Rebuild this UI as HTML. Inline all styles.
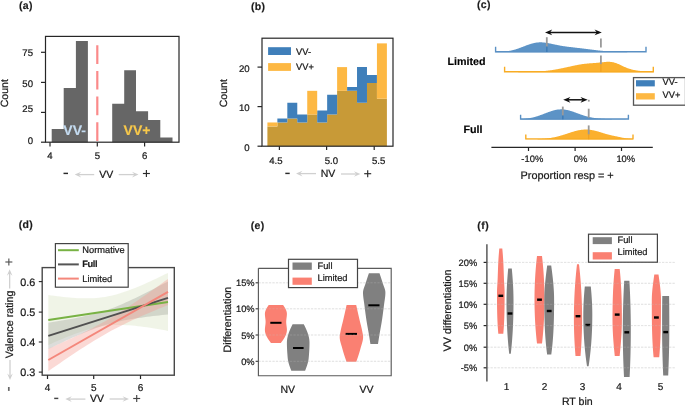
<!DOCTYPE html>
<html><head><meta charset="utf-8"><style>
html,body{margin:0;padding:0;background:#fff;}
body{width:685px;height:406px;overflow:hidden;}
svg{display:block;font-family:"Liberation Sans", sans-serif;will-change:transform;text-rendering:geometricPrecision;}
</style></head><body>
<svg width="685" height="406" viewBox="0 0 685 406">
<rect width="685" height="406" fill="#fff"/>
<text x="19.0" y="9.0" font-size="10.5" text-anchor="start" font-weight="bold" fill="#1a1a1a" stroke="#1a1a1a" stroke-width="0.15" letter-spacing="0.3">(a)</text>
<polygon points="51.70,142.20 51.70,128.90 63.70,128.90 63.70,88.10 75.90,88.10 75.90,41.00 87.90,41.00 87.90,142.20 112.20,142.20 112.20,103.70 124.20,103.70 124.20,70.20 136.00,70.20 136.00,111.20 148.10,111.20 148.10,120.00 160.30,120.00 160.30,137.60 172.50,137.60 172.50,142.20" fill="#666666" />
<line x1="97.3" y1="45.2" x2="97.3" y2="142" stroke="#fb8a8a" stroke-width="2.2" stroke-dasharray="18.7 7"/>
<rect x="45.5" y="36.4" width="133.5" height="105.8" fill="none" stroke="#262626" stroke-width="1.2"/>
<line x1="41" y1="142.2" x2="45.5" y2="142.2" stroke="#262626" stroke-width="1.2" />
<text x="33" y="143.8" font-size="9.6" text-anchor="end" font-weight="normal" fill="#1a1a1a" stroke="#1a1a1a" stroke-width="0.22" >0</text>
<line x1="41" y1="112.4" x2="45.5" y2="112.4" stroke="#262626" stroke-width="1.2" />
<text x="33" y="112.4" font-size="9.6" text-anchor="end" font-weight="normal" fill="#1a1a1a" stroke="#1a1a1a" stroke-width="0.22" >25</text>
<line x1="41" y1="82.4" x2="45.5" y2="82.4" stroke="#262626" stroke-width="1.2" />
<text x="33" y="87.1" font-size="9.6" text-anchor="end" font-weight="normal" fill="#1a1a1a" stroke="#1a1a1a" stroke-width="0.22" >50</text>
<line x1="41" y1="52.3" x2="45.5" y2="52.3" stroke="#262626" stroke-width="1.2" />
<text x="33" y="55.6" font-size="9.6" text-anchor="end" font-weight="normal" fill="#1a1a1a" stroke="#1a1a1a" stroke-width="0.22" >75</text>
<line x1="50" y1="142.2" x2="50" y2="146.5" stroke="#262626" stroke-width="1.2" />
<text x="50" y="158.8" font-size="9.6" text-anchor="middle" font-weight="normal" fill="#1a1a1a" stroke="#1a1a1a" stroke-width="0.22" >4</text>
<line x1="97.3" y1="142.2" x2="97.3" y2="146.5" stroke="#262626" stroke-width="1.2" />
<text x="97.3" y="158.8" font-size="9.6" text-anchor="middle" font-weight="normal" fill="#1a1a1a" stroke="#1a1a1a" stroke-width="0.22" >5</text>
<line x1="144.6" y1="142.2" x2="144.6" y2="146.5" stroke="#262626" stroke-width="1.2" />
<text x="144.6" y="158.8" font-size="9.6" text-anchor="middle" font-weight="normal" fill="#1a1a1a" stroke="#1a1a1a" stroke-width="0.22" >6</text>
<text x="63.3" y="135.4" font-size="14" text-anchor="start" font-weight="bold" fill="#c4dbf0" stroke="#c4dbf0" stroke-width="0.15" >VV-</text>
<text x="123.6" y="135.4" font-size="14" text-anchor="start" font-weight="bold" fill="#f7c84a" stroke="#f7c84a" stroke-width="0.15" >VV+</text>
<text x="0" y="0" font-size="10.5" text-anchor="middle" font-weight="normal" fill="#1a1a1a" stroke="#1a1a1a" stroke-width="0.22" transform="translate(8.2,93.2) rotate(-90)">Count</text>
<line x1="63.5" y1="173.4" x2="68" y2="173.4" stroke="#2a2a2a" stroke-width="1.45" />
<line x1="94.2" y1="174.6" x2="77.7" y2="174.6" stroke="#d0d0d0" stroke-width="1.3" />
<polygon points="74.7,174.6 81.2,171.79999999999998 78.7,174.6 81.2,177.4" fill="#d0d0d0"/>
<text x="106.2" y="178.2" font-size="10.5" text-anchor="middle" font-weight="normal" fill="#1a1a1a" stroke="#1a1a1a" stroke-width="0.22" >VV</text>
<line x1="118.7" y1="174.6" x2="135.5" y2="174.6" stroke="#d0d0d0" stroke-width="1.3" />
<polygon points="138.5,174.6 132.0,171.79999999999998 134.5,174.6 132.0,177.4" fill="#d0d0d0"/>
<line x1="142.9" y1="173.5" x2="149.9" y2="173.5" stroke="#2a2a2a" stroke-width="1.15" />
<line x1="146.4" y1="170.0" x2="146.4" y2="177.0" stroke="#2a2a2a" stroke-width="1.15" />
<text x="251.0" y="10.2" font-size="10.5" text-anchor="start" font-weight="bold" fill="#1a1a1a" stroke="#1a1a1a" stroke-width="0.15" letter-spacing="0.3">(b)</text>
<polygon points="297.27,122.47 297.27,118.51 287.32,118.51 287.32,122.47 277.36,122.47 277.36,126.42 267.40,126.42 267.40,146.20 386.90,146.20 386.90,98.74 376.94,98.74 376.94,82.92 366.98,82.92 366.98,102.69 357.02,102.69 357.02,90.83 337.11,90.83 337.11,114.56 327.15,114.56 327.15,122.47 317.19,122.47 317.19,114.56 307.23,114.56 307.23,122.47" fill="#c89a37" />
<polygon points="366.98,75.01 366.98,67.10 357.02,67.10 357.02,86.88 347.07,86.88 347.07,90.83 357.02,90.83 357.02,102.69 366.98,102.69 366.98,82.92 376.94,82.92 376.94,75.01" fill="#3f7fba" />
<polygon points="337.11,114.56 337.11,94.78 327.15,94.78 327.15,110.60 317.19,110.60 317.19,122.47 327.15,122.47 327.15,114.56" fill="#3f7fba" />
<polygon points="297.27,118.51 297.27,122.47 307.23,122.47 307.23,114.56 297.27,114.56 297.27,102.69 287.32,102.69 287.32,118.51" fill="#3f7fba" />
<polygon points="287.32,122.47 287.32,118.51 277.36,118.51 277.36,122.47" fill="#3f7fba" />
<polygon points="376.94,98.74 386.90,98.74 386.90,43.37 376.94,43.37" fill="#fdb843" />
<polygon points="337.11,90.83 347.07,90.83 347.07,67.10 337.11,67.10" fill="#fdb843" />
<polygon points="307.23,114.56 317.19,114.56 317.19,90.83 307.23,90.83" fill="#fdb843" />
<polygon points="267.40,126.42 277.36,126.42 277.36,122.47 267.40,122.47" fill="#fdb843" />
<rect x="262" y="38.2" width="131" height="108" fill="none" stroke="#262626" stroke-width="1.2"/>
<line x1="257.5" y1="146.2" x2="262" y2="146.2" stroke="#262626" stroke-width="1.2" />
<text x="249.6" y="150.79999999999998" font-size="9.6" text-anchor="end" font-weight="normal" fill="#1a1a1a" stroke="#1a1a1a" stroke-width="0.22" >0</text>
<line x1="257.5" y1="106.6" x2="262" y2="106.6" stroke="#262626" stroke-width="1.2" />
<text x="249.6" y="111.19999999999999" font-size="9.6" text-anchor="end" font-weight="normal" fill="#1a1a1a" stroke="#1a1a1a" stroke-width="0.22" >10</text>
<line x1="257.5" y1="67.1" x2="262" y2="67.1" stroke="#262626" stroke-width="1.2" />
<text x="249.6" y="71.69999999999999" font-size="9.6" text-anchor="end" font-weight="normal" fill="#1a1a1a" stroke="#1a1a1a" stroke-width="0.22" >20</text>
<line x1="279.4" y1="146.2" x2="279.4" y2="150" stroke="#262626" stroke-width="1.2" />
<line x1="326.6" y1="146.2" x2="326.6" y2="150" stroke="#262626" stroke-width="1.2" />
<line x1="374.2" y1="146.2" x2="374.2" y2="150" stroke="#262626" stroke-width="1.2" />
<text x="275.8" y="164" font-size="9.6" text-anchor="middle" font-weight="normal" fill="#1a1a1a" stroke="#1a1a1a" stroke-width="0.22" >4.5</text>
<text x="331.4" y="164" font-size="9.6" text-anchor="middle" font-weight="normal" fill="#1a1a1a" stroke="#1a1a1a" stroke-width="0.22" >5.0</text>
<text x="378.7" y="164" font-size="9.6" text-anchor="middle" font-weight="normal" fill="#1a1a1a" stroke="#1a1a1a" stroke-width="0.22" >5.5</text>
<rect x="268.1" y="47.2" width="22.9" height="7.8" fill="#3f7fba" />
<rect x="268.1" y="63.1" width="22.9" height="7.8" fill="#fdb843" />
<text x="296" y="54.6" font-size="9.3" text-anchor="start" font-weight="normal" fill="#1a1a1a" stroke="#1a1a1a" stroke-width="0.22" >VV-</text>
<text x="296" y="70.2" font-size="9.3" text-anchor="start" font-weight="normal" fill="#1a1a1a" stroke="#1a1a1a" stroke-width="0.22" >VV+</text>
<text x="0" y="0" font-size="10.5" text-anchor="middle" font-weight="normal" fill="#1a1a1a" stroke="#1a1a1a" stroke-width="0.22" transform="translate(227.4,93.2) rotate(-90)">Count</text>
<line x1="285.3" y1="173.4" x2="289.7" y2="173.4" stroke="#2a2a2a" stroke-width="1.45" />
<line x1="316" y1="173.6" x2="299" y2="173.6" stroke="#d0d0d0" stroke-width="1.3" />
<polygon points="296,173.6 302.5,170.79999999999998 300.0,173.6 302.5,176.4" fill="#d0d0d0"/>
<text x="328" y="177.4" font-size="10.5" text-anchor="middle" font-weight="normal" fill="#1a1a1a" stroke="#1a1a1a" stroke-width="0.22" >NV</text>
<line x1="341" y1="174" x2="357.4" y2="174" stroke="#d0d0d0" stroke-width="1.3" />
<polygon points="360.4,174 353.9,171.2 356.4,174 353.9,176.8" fill="#d0d0d0"/>
<line x1="364.2" y1="173.7" x2="371.2" y2="173.7" stroke="#2a2a2a" stroke-width="1.15" />
<line x1="367.7" y1="170.2" x2="367.7" y2="177.2" stroke="#2a2a2a" stroke-width="1.15" />
<text x="477.0" y="8.0" font-size="10.5" text-anchor="start" font-weight="bold" fill="#1a1a1a" stroke="#1a1a1a" stroke-width="0.15" letter-spacing="0.3">(c)</text>
<text x="447.5" y="64.8" font-size="10.7" text-anchor="start" font-weight="bold" fill="#000" stroke="#000" stroke-width="0.15" >Limited</text>
<text x="463.5" y="133" font-size="10.7" text-anchor="start" font-weight="bold" fill="#000" stroke="#000" stroke-width="0.15" >Full</text>
<polygon points="495.50,52.30 495.50,52.12 496.00,52.10 496.50,52.09 497.00,52.07 497.50,52.05 498.00,52.03 498.50,52.00 499.00,51.98 499.50,51.95 500.00,51.92 500.50,51.89 501.00,51.86 501.50,51.83 502.00,51.79 502.50,51.75 503.00,51.70 503.50,51.66 504.00,51.61 504.50,51.56 505.00,51.50 505.50,51.44 506.00,51.38 506.50,51.31 507.00,51.24 507.50,51.17 508.00,51.09 508.50,51.01 509.00,50.92 509.50,50.83 510.00,50.74 510.50,50.64 511.00,50.54 511.50,50.43 512.00,50.31 512.50,50.19 513.00,50.07 513.50,49.94 514.00,49.81 514.50,49.67 515.00,49.53 515.50,49.38 516.00,49.23 516.50,49.08 517.00,48.92 517.50,48.75 518.00,48.58 518.50,48.41 519.00,48.24 519.50,48.06 520.00,47.87 520.50,47.69 521.00,47.50 521.50,47.31 522.00,47.12 522.50,46.93 523.00,46.73 523.50,46.54 524.00,46.34 524.50,46.15 525.00,45.95 525.50,45.76 526.00,45.57 526.50,45.37 527.00,45.19 527.50,45.00 528.00,44.82 528.50,44.64 529.00,44.46 529.50,44.29 530.00,44.13 530.50,43.97 531.00,43.81 531.50,43.66 532.00,43.52 532.50,43.39 533.00,43.26 533.50,43.14 534.00,43.02 534.50,42.92 535.00,42.82 535.50,42.73 536.00,42.65 536.50,42.58 537.00,42.52 537.50,42.46 538.00,42.42 538.50,42.38 539.00,42.35 539.50,42.33 540.00,42.32 540.50,42.31 541.00,42.32 541.50,42.33 542.00,42.35 542.50,42.38 543.00,42.42 543.50,42.46 544.00,42.51 544.50,42.56 545.00,42.63 545.50,42.69 546.00,42.76 546.50,42.84 547.00,42.92 547.50,43.01 548.00,43.10 548.50,43.19 549.00,43.29 549.50,43.39 550.00,43.49 550.50,43.59 551.00,43.70 551.50,43.80 552.00,43.91 552.50,44.02 553.00,44.13 553.50,44.23 554.00,44.34 554.50,44.45 555.00,44.56 555.50,44.66 556.00,44.77 556.50,44.87 557.00,44.97 557.50,45.07 558.00,45.17 558.50,45.27 559.00,45.36 559.50,45.46 560.00,45.55 560.50,45.64 561.00,45.72 561.50,45.81 562.00,45.89 562.50,45.97 563.00,46.05 563.50,46.13 564.00,46.21 564.50,46.28 565.00,46.35 565.50,46.42 566.00,46.49 566.50,46.56 567.00,46.63 567.50,46.69 568.00,46.76 568.50,46.82 569.00,46.88 569.50,46.94 570.00,47.00 570.50,47.06 571.00,47.12 571.50,47.18 572.00,47.24 572.50,47.30 573.00,47.36 573.50,47.41 574.00,47.47 574.50,47.53 575.00,47.59 575.50,47.65 576.00,47.70 576.50,47.76 577.00,47.82 577.50,47.88 578.00,47.94 578.50,48.00 579.00,48.06 579.50,48.12 580.00,48.18 580.50,48.24 581.00,48.30 581.50,48.36 582.00,48.42 582.50,48.48 583.00,48.54 583.50,48.61 584.00,48.67 584.50,48.73 585.00,48.80 585.50,48.86 586.00,48.92 586.50,48.99 587.00,49.05 587.50,49.11 588.00,49.18 588.50,49.24 589.00,49.30 589.50,49.36 590.00,49.43 590.50,49.49 591.00,49.55 591.50,49.61 592.00,49.68 592.50,49.74 593.00,49.80 593.50,49.86 594.00,49.92 594.50,49.98 595.00,50.04 595.50,50.10 596.00,50.15 596.50,50.21 597.00,50.27 597.50,50.32 598.00,50.38 598.50,50.43 599.00,50.49 599.50,50.54 600.00,50.59 600.50,50.64 601.00,50.69 601.50,50.74 602.00,50.79 602.50,50.84 603.00,50.89 603.50,50.93 604.00,50.98 604.50,51.02 605.00,51.06 605.50,51.11 606.00,51.15 606.50,51.19 607.00,51.23 607.50,51.27 608.00,51.30 608.50,51.34 609.00,51.37 609.50,51.41 610.00,51.44 610.50,51.48 611.00,51.51 611.50,51.54 612.00,51.57 612.50,51.60 613.00,51.63 613.50,51.65 614.00,51.68 614.50,51.71 615.00,51.73 615.50,51.75 616.00,51.78 616.50,51.80 617.00,51.82 617.50,51.84 618.00,51.86 618.50,51.88 619.00,51.90 619.50,51.92 620.00,51.94 620.50,51.95 621.00,51.97 621.50,51.99 622.00,52.00 622.50,52.02 623.00,52.03 623.50,52.04 624.00,52.06 624.50,52.07 625.00,52.08 625.50,52.09 626.00,52.10 626.50,52.11 627.00,52.12 627.50,52.13 628.00,52.14 628.50,52.15 629.00,52.16 629.50,52.16 630.00,52.17 630.50,52.18 631.00,52.18 631.50,52.19 632.00,52.20 632.50,52.20 633.00,52.21 633.50,52.21 634.00,52.22 634.50,52.22 635.00,52.23 635.50,52.23 636.00,52.24 636.50,52.24 637.00,52.24 637.50,52.25 638.00,52.25 638.50,52.25 639.00,52.26 639.50,52.26 640.00,52.26 640.50,52.26 641.00,52.27 641.50,52.27 642.00,52.27 642.50,52.27 643.00,52.27 643.50,52.28 644.00,52.28 644.50,52.28 645.00,52.28 645.50,52.28 646.00,52.28 646.00,52.30" fill="#5c93c6" />
<polygon points="504.50,72.20 504.50,72.19 505.00,72.19 505.50,72.19 506.00,72.19 506.50,72.19 507.00,72.18 507.50,72.18 508.00,72.18 508.50,72.18 509.00,72.18 509.50,72.18 510.00,72.18 510.50,72.17 511.00,72.17 511.50,72.17 512.00,72.17 512.50,72.17 513.00,72.16 513.50,72.16 514.00,72.16 514.50,72.15 515.00,72.15 515.50,72.15 516.00,72.14 516.50,72.14 517.00,72.14 517.50,72.13 518.00,72.13 518.50,72.12 519.00,72.12 519.50,72.11 520.00,72.11 520.50,72.10 521.00,72.09 521.50,72.09 522.00,72.08 522.50,72.07 523.00,72.07 523.50,72.06 524.00,72.05 524.50,72.04 525.00,72.03 525.50,72.02 526.00,72.01 526.50,72.00 527.00,71.99 527.50,71.97 528.00,71.96 528.50,71.95 529.00,71.93 529.50,71.92 530.00,71.90 530.50,71.88 531.00,71.87 531.50,71.85 532.00,71.83 532.50,71.81 533.00,71.79 533.50,71.77 534.00,71.74 534.50,71.72 535.00,71.70 535.50,71.67 536.00,71.64 536.50,71.62 537.00,71.59 537.50,71.56 538.00,71.53 538.50,71.49 539.00,71.46 539.50,71.43 540.00,71.39 540.50,71.35 541.00,71.31 541.50,71.27 542.00,71.23 542.50,71.19 543.00,71.14 543.50,71.10 544.00,71.05 544.50,71.00 545.00,70.95 545.50,70.90 546.00,70.84 546.50,70.79 547.00,70.73 547.50,70.67 548.00,70.61 548.50,70.55 549.00,70.49 549.50,70.42 550.00,70.35 550.50,70.29 551.00,70.22 551.50,70.14 552.00,70.07 552.50,69.99 553.00,69.92 553.50,69.84 554.00,69.76 554.50,69.67 555.00,69.59 555.50,69.51 556.00,69.42 556.50,69.33 557.00,69.24 557.50,69.15 558.00,69.05 558.50,68.96 559.00,68.86 559.50,68.77 560.00,68.67 560.50,68.57 561.00,68.47 561.50,68.37 562.00,68.26 562.50,68.16 563.00,68.05 563.50,67.95 564.00,67.84 564.50,67.73 565.00,67.62 565.50,67.51 566.00,67.40 566.50,67.29 567.00,67.18 567.50,67.07 568.00,66.96 568.50,66.85 569.00,66.74 569.50,66.63 570.00,66.52 570.50,66.41 571.00,66.30 571.50,66.19 572.00,66.08 572.50,65.97 573.00,65.86 573.50,65.76 574.00,65.65 574.50,65.55 575.00,65.44 575.50,65.34 576.00,65.24 576.50,65.14 577.00,65.05 577.50,64.95 578.00,64.86 578.50,64.77 579.00,64.68 579.50,64.59 580.00,64.51 580.50,64.42 581.00,64.34 581.50,64.27 582.00,64.19 582.50,64.12 583.00,64.05 583.50,63.98 584.00,63.91 584.50,63.85 585.00,63.79 585.50,63.73 586.00,63.68 586.50,63.63 587.00,63.58 587.50,63.53 588.00,63.48 588.50,63.44 589.00,63.40 589.50,63.36 590.00,63.32 590.50,63.28 591.00,63.24 591.50,63.21 592.00,63.17 592.50,63.14 593.00,63.10 593.50,63.07 594.00,63.04 594.50,63.00 595.00,62.96 595.50,62.93 596.00,62.89 596.50,62.85 597.00,62.81 597.50,62.76 598.00,62.72 598.50,62.67 599.00,62.62 599.50,62.57 600.00,62.52 600.50,62.47 601.00,62.41 601.50,62.36 602.00,62.30 602.50,62.24 603.00,62.19 603.50,62.13 604.00,62.08 604.50,62.03 605.00,61.98 605.50,61.93 606.00,61.89 606.50,61.86 607.00,61.83 607.50,61.81 608.00,61.80 608.50,61.80 609.00,61.80 609.50,61.82 610.00,61.84 610.50,61.88 611.00,61.93 611.50,61.99 612.00,62.07 612.50,62.16 613.00,62.26 613.50,62.37 614.00,62.49 614.50,62.63 615.00,62.78 615.50,62.94 616.00,63.12 616.50,63.30 617.00,63.49 617.50,63.69 618.00,63.90 618.50,64.12 619.00,64.34 619.50,64.57 620.00,64.80 620.50,65.03 621.00,65.27 621.50,65.51 622.00,65.74 622.50,65.98 623.00,66.21 623.50,66.45 624.00,66.67 624.50,66.90 625.00,67.12 625.50,67.33 626.00,67.54 626.50,67.74 627.00,67.94 627.50,68.13 628.00,68.31 628.50,68.49 629.00,68.66 629.50,68.82 630.00,68.97 630.50,69.12 631.00,69.26 631.50,69.40 632.00,69.53 632.50,69.65 633.00,69.77 633.50,69.88 634.00,69.99 634.50,70.09 635.00,70.18 635.50,70.27 636.00,70.36 636.50,70.44 637.00,70.52 637.50,70.60 638.00,70.67 638.50,70.73 639.00,70.80 639.50,70.86 640.00,70.92 640.50,70.98 641.00,71.03 641.50,71.08 642.00,71.13 642.50,71.18 643.00,71.23 643.50,71.27 644.00,71.31 644.50,71.35 645.00,71.39 645.50,71.43 646.00,71.46 646.50,71.50 647.00,71.53 647.50,71.56 648.00,71.59 648.50,71.62 649.00,71.65 649.50,71.68 650.00,71.70 650.50,71.73 651.00,71.75 651.50,71.77 652.00,71.79 652.50,71.81 653.00,71.83 653.40,72.20" fill="#fbb02e" />
<polygon points="520.50,119.60 520.50,119.19 521.00,119.15 521.50,119.12 522.00,119.08 522.50,119.04 523.00,118.99 523.50,118.95 524.00,118.90 524.50,118.85 525.00,118.79 525.50,118.73 526.00,118.67 526.50,118.61 527.00,118.54 527.50,118.46 528.00,118.39 528.50,118.31 529.00,118.22 529.50,118.14 530.00,118.04 530.50,117.95 531.00,117.85 531.50,117.74 532.00,117.63 532.50,117.52 533.00,117.40 533.50,117.28 534.00,117.15 534.50,117.02 535.00,116.88 535.50,116.74 536.00,116.60 536.50,116.45 537.00,116.30 537.50,116.14 538.00,115.98 538.50,115.81 539.00,115.65 539.50,115.47 540.00,115.30 540.50,115.12 541.00,114.94 541.50,114.76 542.00,114.57 542.50,114.38 543.00,114.19 543.50,114.00 544.00,113.81 544.50,113.62 545.00,113.42 545.50,113.23 546.00,113.04 546.50,112.85 547.00,112.65 547.50,112.46 548.00,112.28 548.50,112.09 549.00,111.91 549.50,111.73 550.00,111.55 550.50,111.38 551.00,111.21 551.50,111.05 552.00,110.90 552.50,110.74 553.00,110.60 553.50,110.46 554.00,110.33 554.50,110.20 555.00,110.09 555.50,109.98 556.00,109.87 556.50,109.78 557.00,109.70 557.50,109.62 558.00,109.56 558.50,109.50 559.00,109.45 559.50,109.41 560.00,109.38 560.50,109.36 561.00,109.36 561.50,109.36 562.00,109.37 562.50,109.39 563.00,109.42 563.50,109.46 564.00,109.50 564.50,109.56 565.00,109.63 565.50,109.70 566.00,109.79 566.50,109.88 567.00,109.98 567.50,110.09 568.00,110.21 568.50,110.33 569.00,110.46 569.50,110.60 570.00,110.74 570.50,110.89 571.00,111.04 571.50,111.20 572.00,111.36 572.50,111.53 573.00,111.70 573.50,111.87 574.00,112.05 574.50,112.23 575.00,112.41 575.50,112.59 576.00,112.77 576.50,112.96 577.00,113.14 577.50,113.32 578.00,113.51 578.50,113.69 579.00,113.87 579.50,114.05 580.00,114.23 580.50,114.41 581.00,114.59 581.50,114.76 582.00,114.93 582.50,115.10 583.00,115.26 583.50,115.42 584.00,115.58 584.50,115.73 585.00,115.88 585.50,116.03 586.00,116.17 586.50,116.31 587.00,116.44 587.50,116.57 588.00,116.70 588.50,116.82 589.00,116.94 589.50,117.05 590.00,117.16 590.50,117.26 591.00,117.36 591.50,117.46 592.00,117.55 592.50,117.64 593.00,117.73 593.50,117.81 594.00,117.89 594.50,117.96 595.00,118.03 595.50,118.10 596.00,118.16 596.50,118.23 597.00,118.28 597.50,118.34 598.00,118.39 598.50,118.44 599.00,118.49 599.50,118.53 600.00,118.57 600.50,118.61 601.00,118.65 601.50,118.69 602.00,118.72 602.50,118.75 603.00,118.79 603.50,118.81 604.00,118.84 604.50,118.87 605.00,118.89 605.50,118.91 606.00,118.94 606.50,118.96 607.00,118.98 607.50,119.00 608.00,119.01 608.50,119.03 609.00,119.05 609.50,119.06 610.00,119.08 610.50,119.09 611.00,119.11 611.50,119.12 612.00,119.13 612.50,119.15 613.00,119.16 613.50,119.17 614.00,119.18 614.50,119.19 615.00,119.20 615.50,119.21 616.00,119.22 616.50,119.23 617.00,119.24 617.50,119.25 618.00,119.26 618.50,119.27 619.00,119.28 619.50,119.28 620.00,119.29 620.50,119.30 621.00,119.31 621.50,119.32 622.00,119.32 622.50,119.33 623.00,119.34 623.50,119.35 624.00,119.35 624.50,119.36 625.00,119.37 625.50,119.37 626.00,119.38 626.50,119.39 627.00,119.39 627.50,119.40 628.00,119.41 628.50,119.41 628.50,119.60" fill="#5c93c6" />
<polygon points="525.80,139.40 525.80,139.36 526.30,139.36 526.80,139.35 527.30,139.35 527.80,139.34 528.30,139.34 528.80,139.33 529.30,139.32 529.80,139.32 530.30,139.31 530.80,139.30 531.30,139.29 531.80,139.28 532.30,139.27 532.80,139.26 533.30,139.25 533.80,139.24 534.30,139.23 534.80,139.21 535.30,139.20 535.80,139.18 536.30,139.16 536.80,139.15 537.30,139.13 537.80,139.11 538.30,139.08 538.80,139.06 539.30,139.04 539.80,139.01 540.30,138.98 540.80,138.95 541.30,138.92 541.80,138.89 542.30,138.85 542.80,138.81 543.30,138.77 543.80,138.73 544.30,138.69 544.80,138.64 545.30,138.59 545.80,138.54 546.30,138.49 546.80,138.43 547.30,138.37 547.80,138.31 548.30,138.25 548.80,138.18 549.30,138.11 549.80,138.04 550.30,137.96 550.80,137.88 551.30,137.80 551.80,137.71 552.30,137.62 552.80,137.53 553.30,137.44 553.80,137.34 554.30,137.23 554.80,137.13 555.30,137.02 555.80,136.91 556.30,136.79 556.80,136.67 557.30,136.55 557.80,136.43 558.30,136.30 558.80,136.17 559.30,136.03 559.80,135.89 560.30,135.75 560.80,135.61 561.30,135.46 561.80,135.32 562.30,135.16 562.80,135.01 563.30,134.86 563.80,134.70 564.30,134.54 564.80,134.38 565.30,134.22 565.80,134.06 566.30,133.89 566.80,133.73 567.30,133.57 567.80,133.40 568.30,133.24 568.80,133.07 569.30,132.91 569.80,132.74 570.30,132.58 570.80,132.42 571.30,132.26 571.80,132.10 572.30,131.95 572.80,131.80 573.30,131.65 573.80,131.50 574.30,131.36 574.80,131.22 575.30,131.08 575.80,130.95 576.30,130.82 576.80,130.70 577.30,130.58 577.80,130.47 578.30,130.36 578.80,130.26 579.30,130.17 579.80,130.08 580.30,129.99 580.80,129.92 581.30,129.85 581.80,129.78 582.30,129.73 582.80,129.68 583.30,129.64 583.80,129.60 584.30,129.57 584.80,129.55 585.30,129.54 585.80,129.54 586.30,129.54 586.80,129.55 587.30,129.57 587.80,129.59 588.30,129.62 588.80,129.66 589.30,129.71 589.80,129.76 590.30,129.82 590.80,129.89 591.30,129.97 591.80,130.05 592.30,130.13 592.80,130.23 593.30,130.33 593.80,130.43 594.30,130.54 594.80,130.66 595.30,130.78 595.80,130.90 596.30,131.03 596.80,131.17 597.30,131.30 597.80,131.44 598.30,131.59 598.80,131.74 599.30,131.89 599.80,132.04 600.30,132.19 600.80,132.35 601.30,132.50 601.80,132.66 602.30,132.82 602.80,132.98 603.30,133.13 603.80,133.29 604.30,133.44 604.80,133.60 605.30,133.75 605.80,133.89 606.30,134.04 606.80,134.18 607.30,134.32 607.80,134.46 608.30,134.59 608.80,134.72 609.30,134.84 609.80,134.97 610.30,135.08 610.80,135.20 611.30,135.31 611.80,135.42 612.30,135.53 612.80,135.64 613.30,135.74 613.80,135.84 614.30,135.95 614.80,136.05 615.30,136.15 615.80,136.25 616.30,136.36 616.80,136.46 617.30,136.57 617.80,136.68 618.30,136.78 618.80,136.89 619.30,137.00 619.80,137.11 620.30,137.22 620.80,137.33 621.30,137.44 621.80,137.54 622.30,137.65 622.80,137.75 623.30,137.85 623.80,137.95 624.30,138.04 624.80,138.13 625.30,138.22 625.80,138.30 626.30,138.38 626.80,138.45 627.30,138.52 627.80,138.58 628.30,138.65 628.80,138.70 629.30,138.75 629.80,138.80 630.30,138.85 630.80,138.89 631.30,138.93 631.80,138.97 632.30,139.00 632.80,139.03 633.00,139.40" fill="#fbb02e" />
<polyline points="495.6,46.8 495.6,51.7 646,51.7 646,46.8" fill="none" stroke="#5a90c4" stroke-width="1.4"/>
<polyline points="504.6,66.8 504.6,71.7 653.3,71.7 653.3,66.8" fill="none" stroke="#f8ac24" stroke-width="1.4"/>
<polyline points="520.6,114.8 520.6,119 628.4,119 628.4,114.8" fill="none" stroke="#5a90c4" stroke-width="1.4"/>
<polyline points="525.8,134.6 525.8,138.9 633,138.9 633,134.6" fill="none" stroke="#f8ac24" stroke-width="1.4"/>
<line x1="546.8" y1="37.2" x2="546.8" y2="46.8" stroke="#9a9a9a" stroke-width="1.8" />
<line x1="546.8" y1="46.6" x2="546.8" y2="52" stroke="#3f7db8" stroke-width="1.6" />
<line x1="600.9" y1="38.5" x2="600.9" y2="47.6" stroke="#9a9a9a" stroke-width="1.8" />
<line x1="600.9" y1="55.5" x2="600.9" y2="64.3" stroke="#9a9a9a" stroke-width="1.8" />
<line x1="600.9" y1="64.5" x2="600.9" y2="72" stroke="#f0a020" stroke-width="1.2" />
<line x1="562.8" y1="106.6" x2="562.8" y2="115.6" stroke="#9a9a9a" stroke-width="1.8" />
<line x1="562.8" y1="115.6" x2="562.8" y2="119.3" stroke="#3f7db8" stroke-width="1.6" />
<line x1="588.7" y1="108.7" x2="588.7" y2="117.8" stroke="#9a9a9a" stroke-width="1.8" />
<line x1="588.7" y1="125.4" x2="588.7" y2="134.6" stroke="#9a9a9a" stroke-width="1.8" />
<line x1="588.7" y1="134.6" x2="588.7" y2="139.2" stroke="#f0a020" stroke-width="1.2" />
<rect x="587.9" y="99.8" width="1.8" height="1.8" fill="#999"/>
<line x1="548.0" y1="32.4" x2="598.8" y2="32.4" stroke="#111" stroke-width="1.5" />
<polygon points="545.0,32.4 552.2,29.5 550.0,32.4 552.2,35.3" fill="#111"/>
<polygon points="601.8,32.4 594.5999999999999,29.5 596.8,32.4 594.5999999999999,35.3" fill="#111"/>
<line x1="566.2" y1="99.8" x2="584.7" y2="99.8" stroke="#111" stroke-width="1.5" />
<polygon points="563.2,99.8 570.4000000000001,96.89999999999999 568.2,99.8 570.4000000000001,102.7" fill="#111"/>
<polygon points="587.7,99.8 580.5,96.89999999999999 582.7,99.8 580.5,102.7" fill="#111"/>
<line x1="491.4" y1="147.4" x2="652.8" y2="147.4" stroke="#262626" stroke-width="1.2" />
<line x1="528.5" y1="147.4" x2="528.5" y2="151" stroke="#262626" stroke-width="1.2" />
<line x1="575.1" y1="147.4" x2="575.1" y2="151" stroke="#262626" stroke-width="1.2" />
<line x1="621.5" y1="147.4" x2="621.5" y2="151" stroke="#262626" stroke-width="1.2" />
<text x="532.3" y="161.9" font-size="9.4" text-anchor="middle" font-weight="normal" fill="#1a1a1a" stroke="#1a1a1a" stroke-width="0.22" >-10%</text>
<text x="580.5" y="161.9" font-size="9.4" text-anchor="middle" font-weight="normal" fill="#1a1a1a" stroke="#1a1a1a" stroke-width="0.22" >0%</text>
<text x="625.8" y="161.9" font-size="9.4" text-anchor="middle" font-weight="normal" fill="#1a1a1a" stroke="#1a1a1a" stroke-width="0.22" >10%</text>
<text x="520.5" y="178.6" font-size="10.9" text-anchor="start" font-weight="normal" fill="#1a1a1a" stroke="#1a1a1a" stroke-width="0.22" >Proportion resp = +</text>
<rect x="633.5" y="77.6" width="52" height="27.6" fill="#fff" stroke="#555" stroke-width="1.3"/>
<rect x="636" y="80.2" width="18.8" height="6.2" fill="#3f7fba" />
<rect x="636" y="93.2" width="18.8" height="6.3" fill="#fdb843" />
<text x="662.5" y="84.9" font-size="9.3" text-anchor="start" font-weight="normal" fill="#1a1a1a" stroke="#1a1a1a" stroke-width="0.22" >VV-</text>
<text x="662.5" y="97.9" font-size="9.3" text-anchor="start" font-weight="normal" fill="#1a1a1a" stroke="#1a1a1a" stroke-width="0.22" >VV+</text>
<text x="18.8" y="228.1" font-size="10.5" text-anchor="start" font-weight="bold" fill="#1a1a1a" stroke="#1a1a1a" stroke-width="0.15" letter-spacing="0.3">(d)</text>
<polygon points="48.30,295.00 51.29,295.43 54.28,295.84 57.28,296.24 60.27,296.61 63.26,296.95 66.25,297.27 69.25,297.55 72.24,297.80 75.23,298.01 78.22,298.18 81.22,298.30 84.21,298.36 87.20,298.37 90.19,298.31 93.19,298.18 96.18,297.98 99.17,297.70 102.16,297.34 105.16,296.90 108.15,296.36 111.14,295.73 114.14,295.01 117.13,294.20 120.12,293.32 123.11,292.36 126.11,291.34 129.10,290.25 132.09,289.12 135.08,287.93 138.07,286.70 141.07,285.43 144.06,284.13 147.05,282.80 150.05,281.45 153.04,280.07 156.03,278.67 159.02,277.25 162.01,275.81 165.01,274.36 168.00,272.90 168.00,330.90 165.01,330.34 162.01,329.80 159.02,329.27 156.03,328.75 153.04,328.26 150.05,327.78 147.05,327.33 144.06,326.91 141.07,326.51 138.07,326.15 135.08,325.83 132.09,325.54 129.10,325.31 126.11,325.13 123.11,325.01 120.12,324.96 117.13,324.98 114.14,325.08 111.14,325.27 108.15,325.54 105.16,325.91 102.16,326.37 99.17,326.91 96.18,327.54 93.19,328.24 90.19,329.02 87.20,329.86 84.21,330.78 81.22,331.74 78.22,332.77 75.23,333.84 72.24,334.96 69.25,336.11 66.25,337.30 63.26,338.52 60.27,339.77 57.28,341.05 54.28,342.35 51.29,343.66 48.30,345.00" fill="#c9d6a6" fill-opacity="0.27"/>
<polygon points="48.30,322.70 51.29,322.24 54.28,321.78 57.28,321.30 60.27,320.82 63.26,320.32 66.25,319.81 69.25,319.28 72.24,318.73 75.23,318.16 78.22,317.57 81.22,316.95 84.21,316.30 87.20,315.61 90.19,314.90 93.19,314.14 96.18,313.33 99.17,312.49 102.16,311.59 105.16,310.64 108.15,309.64 111.14,308.56 114.14,307.43 117.13,306.23 120.12,304.99 123.11,303.69 126.11,302.36 129.10,300.99 132.09,299.59 135.08,298.16 138.07,296.71 141.07,295.23 144.06,293.74 147.05,292.24 150.05,290.72 153.04,289.19 156.03,287.65 159.02,286.10 162.01,284.54 165.01,282.97 168.00,281.40 168.00,314.40 165.01,314.73 162.01,315.06 159.02,315.40 156.03,315.75 153.04,316.11 150.05,316.48 147.05,316.86 144.06,317.26 141.07,317.67 138.07,318.09 135.08,318.54 132.09,319.01 129.10,319.51 126.11,320.04 123.11,320.61 120.12,321.21 117.13,321.87 114.14,322.57 111.14,323.34 108.15,324.16 105.16,325.06 102.16,326.01 99.17,327.01 96.18,328.07 93.19,329.16 90.19,330.30 87.20,331.49 84.21,332.70 81.22,333.95 78.22,335.23 75.23,336.54 72.24,337.87 69.25,339.22 66.25,340.59 63.26,341.98 60.27,343.38 57.28,344.80 54.28,346.22 51.29,347.66 48.30,349.10" fill="#9a9d96" fill-opacity="0.35"/>
<polygon points="48.30,348.80 51.29,347.48 54.28,346.15 57.28,344.81 60.27,343.47 63.26,342.11 66.25,340.75 69.25,339.36 72.24,337.97 75.23,336.56 78.22,335.13 81.22,333.68 84.21,332.21 87.20,330.72 90.19,329.20 93.19,327.65 96.18,326.08 99.17,324.47 102.16,322.83 105.16,321.15 108.15,319.44 111.14,317.68 114.14,315.88 117.13,314.04 120.12,312.15 123.11,310.23 126.11,308.28 129.10,306.30 132.09,304.29 135.08,302.25 138.07,300.20 141.07,298.12 144.06,296.03 147.05,293.93 150.05,291.81 153.04,289.68 156.03,287.54 159.02,285.39 162.01,283.23 165.01,281.07 168.00,278.90 168.00,304.90 165.01,306.13 162.01,307.38 159.02,308.62 156.03,309.88 153.04,311.15 150.05,312.42 147.05,313.71 144.06,315.01 141.07,316.32 138.07,317.65 135.08,319.00 132.09,320.37 129.10,321.77 126.11,323.19 123.11,324.64 120.12,326.13 117.13,327.65 114.14,329.21 111.14,330.81 108.15,332.46 105.16,334.15 102.16,335.88 99.17,337.65 96.18,339.44 93.19,341.27 90.19,343.13 87.20,345.01 84.21,346.93 81.22,348.86 78.22,350.82 75.23,352.80 72.24,354.79 69.25,356.80 66.25,358.82 63.26,360.86 60.27,362.91 57.28,364.97 54.28,367.04 51.29,369.12 48.30,371.20" fill="#f59a90" fill-opacity="0.38"/>
<line x1="48.3" y1="320" x2="168.0" y2="301.9" stroke="#78b244" stroke-width="2" />
<line x1="48.3" y1="335.9" x2="168.0" y2="297.9" stroke="#505050" stroke-width="2" />
<line x1="48.3" y1="360" x2="168.0" y2="291.9" stroke="#f4877b" stroke-width="2" />
<rect x="42.2" y="267.6" width="132.1" height="107.6" fill="none" stroke="#484848" stroke-width="1.4"/>
<line x1="38.8" y1="281.6" x2="42.2" y2="281.6" stroke="#262626" stroke-width="1.1" />
<text x="35.3" y="285.70000000000005" font-size="10.8" text-anchor="end" font-weight="normal" fill="#1a1a1a" stroke="#1a1a1a" stroke-width="0.22" >0.6</text>
<line x1="38.8" y1="312.1" x2="42.2" y2="312.1" stroke="#262626" stroke-width="1.1" />
<text x="35.3" y="316.20000000000005" font-size="10.8" text-anchor="end" font-weight="normal" fill="#1a1a1a" stroke="#1a1a1a" stroke-width="0.22" >0.5</text>
<line x1="38.8" y1="342" x2="42.2" y2="342" stroke="#262626" stroke-width="1.1" />
<text x="35.3" y="346.1" font-size="10.8" text-anchor="end" font-weight="normal" fill="#1a1a1a" stroke="#1a1a1a" stroke-width="0.22" >0.4</text>
<line x1="38.8" y1="372.1" x2="42.2" y2="372.1" stroke="#262626" stroke-width="1.1" />
<text x="35.3" y="376.20000000000005" font-size="10.8" text-anchor="end" font-weight="normal" fill="#1a1a1a" stroke="#1a1a1a" stroke-width="0.22" >0.3</text>
<line x1="47.5" y1="375.2" x2="47.5" y2="379" stroke="#262626" stroke-width="1.2" />
<text x="47.5" y="390.8" font-size="10" text-anchor="middle" font-weight="normal" fill="#1a1a1a" stroke="#1a1a1a" stroke-width="0.22" >4</text>
<line x1="93.7" y1="375.2" x2="93.7" y2="379" stroke="#262626" stroke-width="1.2" />
<text x="93.7" y="390.8" font-size="10" text-anchor="middle" font-weight="normal" fill="#1a1a1a" stroke="#1a1a1a" stroke-width="0.22" >5</text>
<line x1="140.5" y1="375.2" x2="140.5" y2="379" stroke="#262626" stroke-width="1.2" />
<text x="140.5" y="390.8" font-size="10" text-anchor="middle" font-weight="normal" fill="#1a1a1a" stroke="#1a1a1a" stroke-width="0.22" >6</text>
<rect x="55.4" y="243.6" width="72.8" height="43.6" fill="#fff" stroke="#444" stroke-width="1.2"/>
<line x1="58" y1="250.2" x2="78.8" y2="250.2" stroke="#78b244" stroke-width="2" />
<line x1="58" y1="264.4" x2="78.8" y2="264.4" stroke="#555" stroke-width="2" />
<line x1="58" y1="278.6" x2="78.8" y2="278.6" stroke="#f4877b" stroke-width="2" />
<text x="82.3" y="253.1" font-size="9.3" text-anchor="start" font-weight="normal" fill="#1a1a1a" stroke="#1a1a1a" stroke-width="0.22" >Normative</text>
<text x="82.3" y="267.4" font-size="9.3" text-anchor="start" font-weight="bold" fill="#1a1a1a" stroke="#1a1a1a" stroke-width="0.15" letter-spacing="-0.4">Full</text>
<text x="82.3" y="282" font-size="9.3" text-anchor="start" font-weight="normal" fill="#1a1a1a" stroke="#1a1a1a" stroke-width="0.22" >Limited</text>
<line x1="5.35" y1="262" x2="12.35" y2="262" stroke="#555" stroke-width="1.15" />
<line x1="8.85" y1="258.5" x2="8.85" y2="265.5" stroke="#555" stroke-width="1.15" />
<line x1="9.65" y1="288.5" x2="9.65" y2="272.3" stroke="#d0d0d0" stroke-width="1.3" />
<polygon points="9.65,269.3 6.8500000000000005,275.8 9.65,273.3 12.45,275.8" fill="#d0d0d0"/>
<text x="0" y="0" font-size="10.7" text-anchor="middle" font-weight="normal" fill="#1a1a1a" stroke="#1a1a1a" stroke-width="0.22" transform="translate(13.4,324.4) rotate(-90)">Valence rating</text>
<line x1="10" y1="360" x2="10" y2="376.9" stroke="#d0d0d0" stroke-width="1.3" />
<polygon points="10,379.9 7.2,373.4 10,375.9 12.8,373.4" fill="#d0d0d0"/>
<line x1="8.8" y1="387" x2="8.8" y2="390.9" stroke="#666" stroke-width="1.7" />
<line x1="54.2" y1="398.4" x2="58.3" y2="398.4" stroke="#444" stroke-width="1.45" />
<line x1="85.4" y1="399.1" x2="68.3" y2="399.1" stroke="#d0d0d0" stroke-width="1.3" />
<polygon points="65.3,399.1 71.8,396.3 69.3,399.1 71.8,401.90000000000003" fill="#d0d0d0"/>
<text x="97" y="402.4" font-size="10.5" text-anchor="middle" font-weight="normal" fill="#1a1a1a" stroke="#1a1a1a" stroke-width="0.22" >VV</text>
<line x1="109.6" y1="399" x2="126" y2="399" stroke="#d0d0d0" stroke-width="1.3" />
<polygon points="129,399 122.5,396.2 125.0,399 122.5,401.8" fill="#d0d0d0"/>
<line x1="133.2" y1="398.5" x2="140.2" y2="398.5" stroke="#444" stroke-width="1.15" />
<line x1="136.7" y1="395.0" x2="136.7" y2="402.0" stroke="#444" stroke-width="1.15" />
<text x="250.8" y="229.0" font-size="10.5" text-anchor="start" font-weight="bold" fill="#1a1a1a" stroke="#1a1a1a" stroke-width="0.15" letter-spacing="0.3">(e)</text>
<line x1="258.4" y1="282.8" x2="391.2" y2="282.8" stroke="#ebebeb" stroke-width="0.9" stroke-dasharray="2.3 1.2"/>
<line x1="258.4" y1="308.8" x2="391.2" y2="308.8" stroke="#ebebeb" stroke-width="0.9" stroke-dasharray="2.3 1.2"/>
<line x1="258.4" y1="335" x2="391.2" y2="335" stroke="#ebebeb" stroke-width="0.9" stroke-dasharray="2.3 1.2"/>
<line x1="258.4" y1="361.3" x2="391.2" y2="361.3" stroke="#ebebeb" stroke-width="0.9" stroke-dasharray="2.3 1.2"/>
<text x="254.6" y="286.40000000000003" font-size="9.3" text-anchor="end" font-weight="normal" fill="#1a1a1a" stroke="#1a1a1a" stroke-width="0.22" >15%</text>
<line x1="255.6" y1="282.8" x2="258.4" y2="282.8" stroke="#333" stroke-width="1.1" />
<text x="254.6" y="312.40000000000003" font-size="9.3" text-anchor="end" font-weight="normal" fill="#1a1a1a" stroke="#1a1a1a" stroke-width="0.22" >10%</text>
<line x1="255.6" y1="308.8" x2="258.4" y2="308.8" stroke="#333" stroke-width="1.1" />
<text x="254.6" y="338.6" font-size="9.3" text-anchor="end" font-weight="normal" fill="#1a1a1a" stroke="#1a1a1a" stroke-width="0.22" >5%</text>
<line x1="255.6" y1="335" x2="258.4" y2="335" stroke="#333" stroke-width="1.1" />
<text x="254.6" y="364.90000000000003" font-size="9.3" text-anchor="end" font-weight="normal" fill="#1a1a1a" stroke="#1a1a1a" stroke-width="0.22" >0%</text>
<line x1="255.6" y1="361.3" x2="258.4" y2="361.3" stroke="#333" stroke-width="1.1" />
<polygon points="268.70,305.10 268.02,306.10 267.37,307.10 266.78,308.10 266.24,309.10 265.78,310.10 265.40,311.10 265.12,312.10 264.95,313.10 264.90,314.10 264.94,315.10 265.02,316.10 265.13,317.10 265.26,318.10 265.39,319.10 265.50,320.10 265.58,321.10 265.60,322.10 265.56,323.10 265.48,324.10 265.37,325.10 265.24,326.10 265.11,327.10 265.00,328.10 264.92,329.10 264.90,330.10 264.95,331.10 265.09,332.10 265.32,333.10 265.62,334.10 265.99,335.10 266.43,336.10 266.94,337.10 267.50,338.10 268.12,339.10 268.79,340.10 269.51,341.10 270.27,342.10 270.90,342.90 280.90,342.90 281.53,342.10 282.29,341.10 283.01,340.10 283.68,339.10 284.30,338.10 284.86,337.10 285.37,336.10 285.81,335.10 286.18,334.10 286.48,333.10 286.71,332.10 286.85,331.10 286.90,330.10 286.88,329.10 286.80,328.10 286.69,327.10 286.56,326.10 286.43,325.10 286.32,324.10 286.24,323.10 286.20,322.10 286.22,321.10 286.30,320.10 286.41,319.10 286.54,318.10 286.67,317.10 286.78,316.10 286.86,315.10 286.90,314.10 286.85,313.10 286.68,312.10 286.40,311.10 286.02,310.10 285.56,309.10 285.02,308.10 284.43,307.10 283.78,306.10 283.10,305.10" fill="#fa8072" />
<polygon points="292.60,324.20 292.10,325.20 291.60,326.20 291.13,327.20 290.66,328.20 290.21,329.20 289.79,330.20 289.38,331.20 289.00,332.20 288.64,333.20 288.31,334.20 288.01,335.20 287.74,336.20 287.50,337.20 287.30,338.20 287.14,339.20 287.02,340.20 286.94,341.20 286.90,342.20 286.90,343.20 286.91,344.20 286.93,345.20 286.95,346.20 286.99,347.20 287.03,348.20 287.07,349.20 287.12,350.20 287.18,351.20 287.24,352.20 287.31,353.20 287.39,354.20 287.46,355.20 287.54,356.20 287.63,357.20 287.72,358.20 287.84,359.20 288.00,360.20 288.20,361.20 288.43,362.20 288.69,363.20 288.98,364.20 289.29,365.20 289.63,366.20 289.98,367.20 290.35,368.20 290.72,369.20 291.11,370.20 291.30,370.70 305.10,370.70 305.29,370.20 305.68,369.20 306.05,368.20 306.42,367.20 306.77,366.20 307.11,365.20 307.42,364.20 307.71,363.20 307.97,362.20 308.20,361.20 308.40,360.20 308.56,359.20 308.68,358.20 308.77,357.20 308.86,356.20 308.94,355.20 309.01,354.20 309.09,353.20 309.16,352.20 309.22,351.20 309.28,350.20 309.33,349.20 309.37,348.20 309.41,347.20 309.45,346.20 309.47,345.20 309.49,344.20 309.50,343.20 309.50,342.20 309.46,341.20 309.38,340.20 309.26,339.20 309.10,338.20 308.90,337.20 308.66,336.20 308.39,335.20 308.09,334.20 307.76,333.20 307.40,332.20 307.02,331.20 306.61,330.20 306.19,329.20 305.74,328.20 305.27,327.20 304.80,326.20 304.30,325.20 303.80,324.20" fill="#808080" />
<polygon points="346.60,304.90 346.38,305.90 346.16,306.90 345.94,307.90 345.72,308.90 345.50,309.90 345.27,310.90 345.05,311.90 344.82,312.90 344.60,313.90 344.37,314.90 344.14,315.90 343.91,316.90 343.68,317.90 343.45,318.90 343.22,319.90 342.99,320.90 342.74,321.90 342.49,322.90 342.24,323.90 341.98,324.90 341.73,325.90 341.48,326.90 341.25,327.90 341.02,328.90 340.81,329.90 340.62,330.90 340.43,331.90 340.23,332.90 340.03,333.90 339.87,334.90 339.75,335.90 339.70,336.90 339.73,337.90 339.83,338.90 339.98,339.90 340.18,340.90 340.43,341.90 340.70,342.90 340.99,343.90 341.29,344.90 341.60,345.90 341.90,346.90 342.17,347.90 342.44,348.90 342.72,349.90 343.00,350.90 343.29,351.90 343.59,352.90 343.90,353.90 344.22,354.90 344.54,355.90 344.87,356.90 345.21,357.90 345.56,358.90 345.91,359.90 346.27,360.90 346.60,361.80 356.20,361.80 356.53,360.90 356.89,359.90 357.24,358.90 357.59,357.90 357.93,356.90 358.26,355.90 358.58,354.90 358.90,353.90 359.21,352.90 359.51,351.90 359.80,350.90 360.08,349.90 360.36,348.90 360.63,347.90 360.90,346.90 361.20,345.90 361.51,344.90 361.81,343.90 362.10,342.90 362.37,341.90 362.62,340.90 362.82,339.90 362.97,338.90 363.07,337.90 363.10,336.90 363.05,335.90 362.93,334.90 362.77,333.90 362.57,332.90 362.37,331.90 362.18,330.90 361.99,329.90 361.78,328.90 361.55,327.90 361.32,326.90 361.07,325.90 360.82,324.90 360.56,323.90 360.31,322.90 360.06,321.90 359.81,320.90 359.58,319.90 359.35,318.90 359.12,317.90 358.89,316.90 358.66,315.90 358.43,314.90 358.20,313.90 357.98,312.90 357.75,311.90 357.53,310.90 357.30,309.90 357.08,308.90 356.86,307.90 356.64,306.90 356.42,305.90 356.20,304.90" fill="#fa8072" />
<polygon points="368.90,273.20 368.55,274.20 368.21,275.20 367.87,276.20 367.54,277.20 367.21,278.20 366.89,279.20 366.57,280.20 366.25,281.20 365.94,282.20 365.64,283.20 365.30,284.20 364.94,285.20 364.56,286.20 364.19,287.20 363.84,288.20 363.52,289.20 363.27,290.20 363.09,291.20 363.01,292.20 363.01,293.20 363.05,294.20 363.11,295.20 363.20,296.20 363.31,297.20 363.44,298.20 363.57,299.20 363.72,300.20 363.87,301.20 364.02,302.20 364.16,303.20 364.30,304.20 364.42,305.20 364.55,306.20 364.67,307.20 364.79,308.20 364.92,309.20 365.05,310.20 365.18,311.20 365.31,312.20 365.44,313.20 365.57,314.20 365.71,315.20 365.85,316.20 365.99,317.20 366.13,318.20 366.28,319.20 366.43,320.20 366.59,321.20 366.75,322.20 366.91,323.20 367.09,324.20 367.26,325.20 367.44,326.20 367.62,327.20 367.80,328.20 367.98,329.20 368.16,330.20 368.34,331.20 368.52,332.20 368.70,333.20 368.87,334.20 369.03,335.20 369.20,336.20 369.36,337.20 369.52,338.20 369.68,339.20 369.83,340.20 369.99,341.20 370.14,342.20 370.29,343.20 370.40,343.90 378.00,343.90 378.11,343.20 378.26,342.20 378.41,341.20 378.57,340.20 378.72,339.20 378.88,338.20 379.04,337.20 379.20,336.20 379.37,335.20 379.53,334.20 379.70,333.20 379.88,332.20 380.06,331.20 380.24,330.20 380.42,329.20 380.60,328.20 380.78,327.20 380.96,326.20 381.14,325.20 381.31,324.20 381.49,323.20 381.65,322.20 381.81,321.20 381.97,320.20 382.12,319.20 382.27,318.20 382.41,317.20 382.55,316.20 382.69,315.20 382.83,314.20 382.96,313.20 383.09,312.20 383.22,311.20 383.35,310.20 383.48,309.20 383.61,308.20 383.73,307.20 383.85,306.20 383.98,305.20 384.10,304.20 384.24,303.20 384.38,302.20 384.53,301.20 384.68,300.20 384.83,299.20 384.96,298.20 385.09,297.20 385.20,296.20 385.29,295.20 385.35,294.20 385.39,293.20 385.39,292.20 385.31,291.20 385.13,290.20 384.88,289.20 384.56,288.20 384.21,287.20 383.84,286.20 383.46,285.20 383.10,284.20 382.76,283.20 382.46,282.20 382.15,281.20 381.83,280.20 381.51,279.20 381.19,278.20 380.86,277.20 380.53,276.20 380.19,275.20 379.85,274.20 379.50,273.20" fill="#808080" />
<line x1="270.3" y1="322.8" x2="281.5" y2="322.8" stroke="#000" stroke-width="2" />
<line x1="293" y1="348" x2="303.6" y2="348" stroke="#000" stroke-width="2" />
<line x1="345.6" y1="333.9" x2="357" y2="333.9" stroke="#000" stroke-width="2" />
<line x1="368.3" y1="305.3" x2="379.5" y2="305.3" stroke="#000" stroke-width="2" />
<line x1="258.4" y1="282.8" x2="391.2" y2="282.8" stroke="#c3c3c3" stroke-width="0.9" stroke-dasharray="2.3 1.2" stroke-opacity="0.3"/>
<line x1="258.4" y1="308.8" x2="391.2" y2="308.8" stroke="#c3c3c3" stroke-width="0.9" stroke-dasharray="2.3 1.2" stroke-opacity="0.3"/>
<line x1="258.4" y1="335" x2="391.2" y2="335" stroke="#c3c3c3" stroke-width="0.9" stroke-dasharray="2.3 1.2" stroke-opacity="0.3"/>
<line x1="258.4" y1="361.3" x2="391.2" y2="361.3" stroke="#c3c3c3" stroke-width="0.9" stroke-dasharray="2.3 1.2" stroke-opacity="0.3"/>
<polyline points="258.4,268.3 258.4,375.7 391.2,375.7 391.2,268.3 258.4,268.3" fill="none" stroke="#5a5a5a" stroke-width="1.15"/>
<rect x="288.5" y="259.3" width="69" height="28.3" fill="#fff" stroke="#444" stroke-width="1.2"/>
<rect x="292.5" y="262.5" width="19.3" height="7.3" fill="#808080" />
<rect x="292.5" y="277.6" width="19.3" height="7.2" fill="#fa8072" />
<text x="317.5" y="268.5" font-size="9.3" text-anchor="start" font-weight="normal" fill="#1a1a1a" stroke="#1a1a1a" stroke-width="0.22" >Full</text>
<text x="317.5" y="280.6" font-size="9.3" text-anchor="start" font-weight="normal" fill="#1a1a1a" stroke="#1a1a1a" stroke-width="0.22" >Limited</text>
<text x="0" y="0" font-size="10.7" text-anchor="middle" font-weight="normal" fill="#1a1a1a" stroke="#1a1a1a" stroke-width="0.22" transform="translate(230.7,319.6) rotate(-90)">Differentiation</text>
<text x="287.8" y="392.9" font-size="10.5" text-anchor="middle" font-weight="normal" fill="#1a1a1a" stroke="#1a1a1a" stroke-width="0.22" >NV</text>
<text x="366.5" y="392.9" font-size="10.5" text-anchor="middle" font-weight="normal" fill="#1a1a1a" stroke="#1a1a1a" stroke-width="0.22" >VV</text>
<text x="477.2" y="228.8" font-size="10.5" text-anchor="start" font-weight="bold" fill="#1a1a1a" stroke="#1a1a1a" stroke-width="0.15" letter-spacing="0.5">(f)</text>
<line x1="487" y1="262.4" x2="676" y2="262.4" stroke="#ebebeb" stroke-width="0.9" stroke-dasharray="2.3 1.2"/>
<line x1="483.6" y1="262.4" x2="486.9" y2="262.4" stroke="#262626" stroke-width="1.2" />
<text x="477.2" y="266.0" font-size="9.3" text-anchor="end" font-weight="normal" fill="#1a1a1a" stroke="#1a1a1a" stroke-width="0.22" >20%</text>
<line x1="487" y1="283.3" x2="676" y2="283.3" stroke="#ebebeb" stroke-width="0.9" stroke-dasharray="2.3 1.2"/>
<line x1="483.6" y1="283.3" x2="486.9" y2="283.3" stroke="#262626" stroke-width="1.2" />
<text x="477.2" y="286.90000000000003" font-size="9.3" text-anchor="end" font-weight="normal" fill="#1a1a1a" stroke="#1a1a1a" stroke-width="0.22" >15%</text>
<line x1="487" y1="304.3" x2="676" y2="304.3" stroke="#ebebeb" stroke-width="0.9" stroke-dasharray="2.3 1.2"/>
<line x1="483.6" y1="304.3" x2="486.9" y2="304.3" stroke="#262626" stroke-width="1.2" />
<text x="477.2" y="307.90000000000003" font-size="9.3" text-anchor="end" font-weight="normal" fill="#1a1a1a" stroke="#1a1a1a" stroke-width="0.22" >10%</text>
<line x1="487" y1="325.6" x2="676" y2="325.6" stroke="#ebebeb" stroke-width="0.9" stroke-dasharray="2.3 1.2"/>
<line x1="483.6" y1="325.6" x2="486.9" y2="325.6" stroke="#262626" stroke-width="1.2" />
<text x="477.2" y="329.20000000000005" font-size="9.3" text-anchor="end" font-weight="normal" fill="#1a1a1a" stroke="#1a1a1a" stroke-width="0.22" >5%</text>
<line x1="487" y1="347.2" x2="676" y2="347.2" stroke="#ebebeb" stroke-width="0.9" stroke-dasharray="2.3 1.2"/>
<line x1="483.6" y1="347.2" x2="486.9" y2="347.2" stroke="#262626" stroke-width="1.2" />
<text x="477.2" y="350.8" font-size="9.3" text-anchor="end" font-weight="normal" fill="#1a1a1a" stroke="#1a1a1a" stroke-width="0.22" >0%</text>
<line x1="487" y1="367.8" x2="676" y2="367.8" stroke="#ebebeb" stroke-width="0.9" stroke-dasharray="2.3 1.2"/>
<line x1="483.6" y1="367.8" x2="486.9" y2="367.8" stroke="#262626" stroke-width="1.2" />
<text x="477.2" y="371.40000000000003" font-size="9.3" text-anchor="end" font-weight="normal" fill="#1a1a1a" stroke="#1a1a1a" stroke-width="0.22" >-5%</text>
<polygon points="499.30,248.60 499.21,249.60 499.12,250.60 499.04,251.60 498.95,252.60 498.87,253.60 498.79,254.60 498.71,255.60 498.64,256.60 498.57,257.60 498.50,258.60 498.44,259.60 498.38,260.60 498.32,261.60 498.27,262.60 498.22,263.60 498.18,264.60 498.13,265.60 498.09,266.60 498.05,267.60 498.01,268.60 497.98,269.60 497.94,270.60 497.91,271.60 497.87,272.60 497.84,273.60 497.80,274.60 497.77,275.60 497.73,276.60 497.70,277.60 497.66,278.60 497.62,279.60 497.57,280.60 497.52,281.60 497.47,282.60 497.41,283.60 497.35,284.60 497.28,285.60 497.23,286.60 497.17,287.60 497.12,288.60 497.07,289.60 497.04,290.60 497.01,291.60 497.00,292.60 497.00,293.60 497.00,294.60 497.00,295.60 497.00,296.60 497.00,297.60 497.01,298.60 497.01,299.60 497.01,300.60 497.02,301.60 497.03,302.60 497.03,303.60 497.04,304.60 497.05,305.60 497.06,306.60 497.08,307.60 497.09,308.60 497.11,309.60 497.13,310.60 497.15,311.60 497.17,312.60 497.19,313.60 497.22,314.60 497.25,315.60 497.28,316.60 497.31,317.60 497.35,318.60 497.39,319.60 497.43,320.60 497.48,321.60 497.53,322.60 497.58,323.60 497.63,324.60 497.69,325.60 497.75,326.60 497.82,327.60 497.89,328.60 497.96,329.60 498.04,330.60 498.12,331.60 498.20,332.60 498.29,333.60 498.30,333.70 503.30,333.70 503.31,333.60 503.40,332.60 503.48,331.60 503.56,330.60 503.64,329.60 503.71,328.60 503.78,327.60 503.85,326.60 503.91,325.60 503.97,324.60 504.02,323.60 504.07,322.60 504.12,321.60 504.17,320.60 504.21,319.60 504.25,318.60 504.29,317.60 504.32,316.60 504.35,315.60 504.38,314.60 504.41,313.60 504.43,312.60 504.45,311.60 504.47,310.60 504.49,309.60 504.51,308.60 504.52,307.60 504.54,306.60 504.55,305.60 504.56,304.60 504.57,303.60 504.57,302.60 504.58,301.60 504.59,300.60 504.59,299.60 504.59,298.60 504.60,297.60 504.60,296.60 504.60,295.60 504.60,294.60 504.60,293.60 504.60,292.60 504.59,291.60 504.56,290.60 504.53,289.60 504.48,288.60 504.43,287.60 504.37,286.60 504.32,285.60 504.25,284.60 504.19,283.60 504.13,282.60 504.08,281.60 504.03,280.60 503.98,279.60 503.94,278.60 503.90,277.60 503.87,276.60 503.83,275.60 503.80,274.60 503.76,273.60 503.73,272.60 503.69,271.60 503.66,270.60 503.62,269.60 503.59,268.60 503.55,267.60 503.51,266.60 503.47,265.60 503.42,264.60 503.38,263.60 503.33,262.60 503.28,261.60 503.22,260.60 503.16,259.60 503.10,258.60 503.03,257.60 502.96,256.60 502.89,255.60 502.81,254.60 502.73,253.60 502.65,252.60 502.56,251.60 502.48,250.60 502.39,249.60 502.30,248.60" fill="#fa8072" />
<polygon points="508.20,268.60 508.11,269.60 508.02,270.60 507.93,271.60 507.85,272.60 507.76,273.60 507.68,274.60 507.60,275.60 507.52,276.60 507.45,277.60 507.38,278.60 507.30,279.60 507.24,280.60 507.17,281.60 507.11,282.60 507.05,283.60 506.99,284.60 506.93,285.60 506.88,286.60 506.83,287.60 506.79,288.60 506.74,289.60 506.70,290.60 506.67,291.60 506.64,292.60 506.61,293.60 506.58,294.60 506.56,295.60 506.54,296.60 506.52,297.60 506.51,298.60 506.50,299.60 506.50,300.60 506.50,301.60 506.50,302.60 506.50,303.60 506.51,304.60 506.52,305.60 506.52,306.60 506.53,307.60 506.54,308.60 506.56,309.60 506.57,310.60 506.59,311.60 506.60,312.60 506.62,313.60 506.65,314.60 506.67,315.60 506.69,316.60 506.72,317.60 506.75,318.60 506.78,319.60 506.81,320.60 506.85,321.60 506.88,322.60 506.92,323.60 506.96,324.60 507.01,325.60 507.05,326.60 507.10,327.60 507.15,328.60 507.20,329.60 507.25,330.60 507.31,331.60 507.37,332.60 507.43,333.60 507.49,334.60 507.56,335.60 507.63,336.60 507.70,337.60 507.77,338.60 507.84,339.60 507.92,340.60 508.00,341.60 508.09,342.60 508.17,343.60 508.26,344.60 508.35,345.60 508.44,346.60 508.54,347.60 508.64,348.60 508.74,349.60 508.85,350.60 508.95,351.60 509.06,352.60 509.18,353.60 509.20,353.80 510.80,353.80 510.82,353.60 510.94,352.60 511.05,351.60 511.15,350.60 511.26,349.60 511.36,348.60 511.46,347.60 511.56,346.60 511.65,345.60 511.74,344.60 511.83,343.60 511.91,342.60 512.00,341.60 512.08,340.60 512.16,339.60 512.23,338.60 512.30,337.60 512.37,336.60 512.44,335.60 512.51,334.60 512.57,333.60 512.63,332.60 512.69,331.60 512.75,330.60 512.80,329.60 512.85,328.60 512.90,327.60 512.95,326.60 512.99,325.60 513.04,324.60 513.08,323.60 513.12,322.60 513.15,321.60 513.19,320.60 513.22,319.60 513.25,318.60 513.28,317.60 513.31,316.60 513.33,315.60 513.35,314.60 513.38,313.60 513.40,312.60 513.41,311.60 513.43,310.60 513.44,309.60 513.46,308.60 513.47,307.60 513.48,306.60 513.48,305.60 513.49,304.60 513.50,303.60 513.50,302.60 513.50,301.60 513.50,300.60 513.50,299.60 513.49,298.60 513.48,297.60 513.46,296.60 513.44,295.60 513.42,294.60 513.39,293.60 513.36,292.60 513.33,291.60 513.30,290.60 513.26,289.60 513.21,288.60 513.17,287.60 513.12,286.60 513.07,285.60 513.01,284.60 512.95,283.60 512.89,282.60 512.83,281.60 512.76,280.60 512.70,279.60 512.62,278.60 512.55,277.60 512.48,276.60 512.40,275.60 512.32,274.60 512.24,273.60 512.15,272.60 512.07,271.60 511.98,270.60 511.89,269.60 511.80,268.60" fill="#808080" />
<polygon points="537.00,255.90 536.89,256.90 536.78,257.90 536.67,258.90 536.56,259.90 536.46,260.90 536.36,261.90 536.26,262.90 536.17,263.90 536.08,264.90 535.99,265.90 535.90,266.90 535.81,267.90 535.73,268.90 535.65,269.90 535.58,270.90 535.50,271.90 535.43,272.90 535.36,273.90 535.29,274.90 535.23,275.90 535.17,276.90 535.11,277.90 535.05,278.90 535.00,279.90 534.95,280.90 534.90,281.90 534.86,282.90 534.81,283.90 534.77,284.90 534.74,285.90 534.70,286.90 534.67,287.90 534.64,288.90 534.61,289.90 534.59,290.90 534.57,291.90 534.55,292.90 534.54,293.90 534.52,294.90 534.51,295.90 534.51,296.90 534.50,297.90 534.50,298.90 534.50,299.90 534.50,300.90 534.51,301.90 534.52,302.90 534.53,303.90 534.54,304.90 534.56,305.90 534.58,306.90 534.60,307.90 534.62,308.90 534.65,309.90 534.67,310.90 534.70,311.90 534.74,312.90 534.77,313.90 534.81,314.90 534.85,315.90 534.89,316.90 534.94,317.90 534.99,318.90 535.04,319.90 535.09,320.90 535.15,321.90 535.21,322.90 535.27,323.90 535.33,324.90 535.40,325.90 535.47,326.90 535.54,327.90 535.61,328.90 535.69,329.90 535.77,330.90 535.85,331.90 535.93,332.90 536.02,333.90 536.11,334.90 536.20,335.90 536.30,336.90 536.39,337.90 536.49,338.90 536.60,339.90 536.70,340.90 536.81,341.90 536.92,342.90 537.00,343.60 542.00,343.60 542.08,342.90 542.19,341.90 542.30,340.90 542.40,339.90 542.51,338.90 542.61,337.90 542.70,336.90 542.80,335.90 542.89,334.90 542.98,333.90 543.07,332.90 543.15,331.90 543.23,330.90 543.31,329.90 543.39,328.90 543.46,327.90 543.53,326.90 543.60,325.90 543.67,324.90 543.73,323.90 543.79,322.90 543.85,321.90 543.91,320.90 543.96,319.90 544.01,318.90 544.06,317.90 544.11,316.90 544.15,315.90 544.19,314.90 544.23,313.90 544.26,312.90 544.30,311.90 544.33,310.90 544.35,309.90 544.38,308.90 544.40,307.90 544.42,306.90 544.44,305.90 544.46,304.90 544.47,303.90 544.48,302.90 544.49,301.90 544.50,300.90 544.50,299.90 544.50,298.90 544.50,297.90 544.49,296.90 544.49,295.90 544.48,294.90 544.46,293.90 544.45,292.90 544.43,291.90 544.41,290.90 544.39,289.90 544.36,288.90 544.33,287.90 544.30,286.90 544.26,285.90 544.23,284.90 544.19,283.90 544.14,282.90 544.10,281.90 544.05,280.90 544.00,279.90 543.95,278.90 543.89,277.90 543.83,276.90 543.77,275.90 543.71,274.90 543.64,273.90 543.57,272.90 543.50,271.90 543.42,270.90 543.35,269.90 543.27,268.90 543.19,267.90 543.10,266.90 543.01,265.90 542.92,264.90 542.83,263.90 542.74,262.90 542.64,261.90 542.54,260.90 542.44,259.90 542.33,258.90 542.22,257.90 542.11,256.90 542.00,255.90" fill="#fa8072" />
<polygon points="547.20,265.60 547.06,266.60 546.93,267.60 546.80,268.60 546.66,269.60 546.53,270.60 546.41,271.60 546.28,272.60 546.16,273.60 546.04,274.60 545.92,275.60 545.80,276.60 545.69,277.60 545.58,278.60 545.48,279.60 545.37,280.60 545.27,281.60 545.18,282.60 545.09,283.60 545.00,284.60 544.92,285.60 544.84,286.60 544.77,287.60 544.70,288.60 544.63,289.60 544.58,290.60 544.52,291.60 544.47,292.60 544.43,293.60 544.39,294.60 544.36,295.60 544.34,296.60 544.32,297.60 544.31,298.60 544.30,299.60 544.30,300.60 544.30,301.60 544.30,302.60 544.31,303.60 544.31,304.60 544.31,305.60 544.32,306.60 544.33,307.60 544.33,308.60 544.34,309.60 544.35,310.60 544.37,311.60 544.38,312.60 544.39,313.60 544.41,314.60 544.43,315.60 544.45,316.60 544.47,317.60 544.49,318.60 544.52,319.60 544.55,320.60 544.58,321.60 544.61,322.60 544.64,323.60 544.68,324.60 544.72,325.60 544.76,326.60 544.80,327.60 544.85,328.60 544.90,329.60 544.95,330.60 545.00,331.60 545.06,332.60 545.12,333.60 545.18,334.60 545.24,335.60 545.31,336.60 545.38,337.60 545.46,338.60 545.54,339.60 545.62,340.60 545.70,341.60 545.79,342.60 545.88,343.60 545.97,344.60 546.07,345.60 546.17,346.60 546.28,347.60 546.39,348.60 546.50,349.60 546.62,350.60 546.74,351.60 546.86,352.60 546.99,353.60 547.10,354.40 551.30,354.40 551.41,353.60 551.54,352.60 551.66,351.60 551.78,350.60 551.90,349.60 552.01,348.60 552.12,347.60 552.23,346.60 552.33,345.60 552.43,344.60 552.52,343.60 552.61,342.60 552.70,341.60 552.78,340.60 552.86,339.60 552.94,338.60 553.02,337.60 553.09,336.60 553.16,335.60 553.22,334.60 553.28,333.60 553.34,332.60 553.40,331.60 553.45,330.60 553.50,329.60 553.55,328.60 553.60,327.60 553.64,326.60 553.68,325.60 553.72,324.60 553.76,323.60 553.79,322.60 553.82,321.60 553.85,320.60 553.88,319.60 553.91,318.60 553.93,317.60 553.95,316.60 553.97,315.60 553.99,314.60 554.01,313.60 554.02,312.60 554.03,311.60 554.05,310.60 554.06,309.60 554.07,308.60 554.07,307.60 554.08,306.60 554.09,305.60 554.09,304.60 554.09,303.60 554.10,302.60 554.10,301.60 554.10,300.60 554.10,299.60 554.09,298.60 554.08,297.60 554.06,296.60 554.04,295.60 554.01,294.60 553.97,293.60 553.93,292.60 553.88,291.60 553.82,290.60 553.77,289.60 553.70,288.60 553.63,287.60 553.56,286.60 553.48,285.60 553.40,284.60 553.31,283.60 553.22,282.60 553.13,281.60 553.03,280.60 552.92,279.60 552.82,278.60 552.71,277.60 552.60,276.60 552.48,275.60 552.36,274.60 552.24,273.60 552.12,272.60 551.99,271.60 551.87,270.60 551.74,269.60 551.60,268.60 551.47,267.60 551.34,266.60 551.20,265.60" fill="#808080" />
<polygon points="577.00,264.30 576.88,265.30 576.77,266.30 576.66,267.30 576.55,268.30 576.45,269.30 576.34,270.30 576.24,271.30 576.14,272.30 576.05,273.30 575.95,274.30 575.86,275.30 575.77,276.30 575.68,277.30 575.59,278.30 575.51,279.30 575.43,280.30 575.35,281.30 575.27,282.30 575.20,283.30 575.13,284.30 575.05,285.30 574.99,286.30 574.92,287.30 574.86,288.30 574.79,289.30 574.73,290.30 574.68,291.30 574.62,292.30 574.57,293.30 574.52,294.30 574.47,295.30 574.42,296.30 574.37,297.30 574.33,298.30 574.29,299.30 574.25,300.30 574.21,301.30 574.18,302.30 574.15,303.30 574.12,304.30 574.09,305.30 574.06,306.30 574.04,307.30 574.01,308.30 573.99,309.30 573.98,310.30 573.96,311.30 573.94,312.30 573.93,313.30 573.92,314.30 573.91,315.30 573.91,316.30 573.90,317.30 573.90,318.30 573.90,319.30 573.90,320.30 573.91,321.30 573.91,322.30 573.92,323.30 573.93,324.30 573.95,325.30 573.97,326.30 573.98,327.30 574.01,328.30 574.03,329.30 574.06,330.30 574.08,331.30 574.11,332.30 574.15,333.30 574.18,334.30 574.22,335.30 574.26,336.30 574.30,337.30 574.35,338.30 574.39,339.30 574.44,340.30 574.49,341.30 574.55,342.30 574.60,343.30 574.66,344.30 574.72,345.30 574.78,346.30 574.85,347.30 574.91,348.30 574.98,349.30 575.05,350.30 575.12,351.30 575.20,352.30 575.27,353.30 575.35,354.30 575.43,355.30 575.50,356.10 580.50,356.10 580.57,355.30 580.65,354.30 580.73,353.30 580.80,352.30 580.88,351.30 580.95,350.30 581.02,349.30 581.09,348.30 581.15,347.30 581.22,346.30 581.28,345.30 581.34,344.30 581.40,343.30 581.45,342.30 581.51,341.30 581.56,340.30 581.61,339.30 581.65,338.30 581.70,337.30 581.74,336.30 581.78,335.30 581.82,334.30 581.85,333.30 581.89,332.30 581.92,331.30 581.94,330.30 581.97,329.30 581.99,328.30 582.02,327.30 582.03,326.30 582.05,325.30 582.07,324.30 582.08,323.30 582.09,322.30 582.09,321.30 582.10,320.30 582.10,319.30 582.10,318.30 582.10,317.30 582.09,316.30 582.09,315.30 582.08,314.30 582.07,313.30 582.06,312.30 582.04,311.30 582.02,310.30 582.01,309.30 581.99,308.30 581.96,307.30 581.94,306.30 581.91,305.30 581.88,304.30 581.85,303.30 581.82,302.30 581.79,301.30 581.75,300.30 581.71,299.30 581.67,298.30 581.63,297.30 581.58,296.30 581.53,295.30 581.48,294.30 581.43,293.30 581.38,292.30 581.32,291.30 581.27,290.30 581.21,289.30 581.14,288.30 581.08,287.30 581.01,286.30 580.95,285.30 580.87,284.30 580.80,283.30 580.73,282.30 580.65,281.30 580.57,280.30 580.49,279.30 580.41,278.30 580.32,277.30 580.23,276.30 580.14,275.30 580.05,274.30 579.95,273.30 579.86,272.30 579.76,271.30 579.66,270.30 579.55,269.30 579.45,268.30 579.34,267.30 579.23,266.30 579.12,265.30 579.00,264.30" fill="#fa8072" />
<polygon points="584.80,286.60 584.70,287.60 584.61,288.60 584.52,289.60 584.43,290.60 584.35,291.60 584.26,292.60 584.18,293.60 584.11,294.60 584.03,295.60 583.96,296.60 583.90,297.60 583.83,298.60 583.77,299.60 583.72,300.60 583.66,301.60 583.61,302.60 583.56,303.60 583.52,304.60 583.48,305.60 583.45,306.60 583.41,307.60 583.39,308.60 583.36,309.60 583.34,310.60 583.32,311.60 583.31,312.60 583.30,313.60 583.30,314.60 583.30,315.60 583.30,316.60 583.31,317.60 583.32,318.60 583.33,319.60 583.34,320.60 583.36,321.60 583.37,322.60 583.39,323.60 583.42,324.60 583.44,325.60 583.47,326.60 583.50,327.60 583.54,328.60 583.58,329.60 583.61,330.60 583.66,331.60 583.70,332.60 583.75,333.60 583.80,334.60 583.86,335.60 583.91,336.60 583.97,337.60 584.03,338.60 584.10,339.60 584.17,340.60 584.24,341.60 584.31,342.60 584.39,343.60 584.47,344.60 584.56,345.60 584.64,346.60 584.73,347.60 584.82,348.60 584.92,349.60 585.02,350.60 585.12,351.60 585.23,352.60 585.34,353.60 585.45,354.60 585.56,355.60 585.68,356.60 585.80,357.60 585.93,358.60 586.05,359.60 586.19,360.60 586.32,361.60 586.46,362.60 586.60,363.60 586.75,364.60 586.89,365.60 587.00,366.30 588.60,366.30 588.71,365.60 588.85,364.60 589.00,363.60 589.14,362.60 589.28,361.60 589.41,360.60 589.55,359.60 589.67,358.60 589.80,357.60 589.92,356.60 590.04,355.60 590.15,354.60 590.26,353.60 590.37,352.60 590.48,351.60 590.58,350.60 590.68,349.60 590.78,348.60 590.87,347.60 590.96,346.60 591.04,345.60 591.13,344.60 591.21,343.60 591.29,342.60 591.36,341.60 591.43,340.60 591.50,339.60 591.57,338.60 591.63,337.60 591.69,336.60 591.74,335.60 591.80,334.60 591.85,333.60 591.90,332.60 591.94,331.60 591.99,330.60 592.02,329.60 592.06,328.60 592.10,327.60 592.13,326.60 592.16,325.60 592.18,324.60 592.21,323.60 592.23,322.60 592.24,321.60 592.26,320.60 592.27,319.60 592.28,318.60 592.29,317.60 592.30,316.60 592.30,315.60 592.30,314.60 592.30,313.60 592.29,312.60 592.28,311.60 592.26,310.60 592.24,309.60 592.21,308.60 592.19,307.60 592.15,306.60 592.12,305.60 592.08,304.60 592.04,303.60 591.99,302.60 591.94,301.60 591.88,300.60 591.83,299.60 591.77,298.60 591.70,297.60 591.64,296.60 591.57,295.60 591.49,294.60 591.42,293.60 591.34,292.60 591.25,291.60 591.17,290.60 591.08,289.60 590.99,288.60 590.90,287.60 590.80,286.60" fill="#808080" />
<polygon points="614.70,268.90 614.60,269.90 614.50,270.90 614.40,271.90 614.31,272.90 614.21,273.90 614.13,274.90 614.04,275.90 613.96,276.90 613.88,277.90 613.80,278.90 613.73,279.90 613.65,280.90 613.59,281.90 613.52,282.90 613.46,283.90 613.39,284.90 613.33,285.90 613.28,286.90 613.22,287.90 613.17,288.90 613.12,289.90 613.07,290.90 613.03,291.90 612.99,292.90 612.95,293.90 612.91,294.90 612.87,295.90 612.84,296.90 612.80,297.90 612.77,298.90 612.74,299.90 612.72,300.90 612.69,301.90 612.67,302.90 612.65,303.90 612.63,304.90 612.61,305.90 612.59,306.90 612.58,307.90 612.56,308.90 612.55,309.90 612.54,310.90 612.53,311.90 612.52,312.90 612.51,313.90 612.51,314.90 612.51,315.90 612.50,316.90 612.50,317.90 612.50,318.90 612.50,319.90 612.51,320.90 612.52,321.90 612.53,322.90 612.55,323.90 612.57,324.90 612.60,325.90 612.63,326.90 612.66,327.90 612.70,328.90 612.74,329.90 612.78,330.90 612.83,331.90 612.88,332.90 612.93,333.90 612.99,334.90 613.05,335.90 613.11,336.90 613.18,337.90 613.25,338.90 613.32,339.90 613.39,340.90 613.47,341.90 613.55,342.90 613.63,343.90 613.71,344.90 613.80,345.90 613.89,346.90 613.98,347.90 614.07,348.90 614.17,349.90 614.27,350.90 614.36,351.90 614.47,352.90 614.57,353.90 614.67,354.90 614.78,355.90 614.80,356.10 619.60,356.10 619.62,355.90 619.73,354.90 619.83,353.90 619.93,352.90 620.04,351.90 620.13,350.90 620.23,349.90 620.33,348.90 620.42,347.90 620.51,346.90 620.60,345.90 620.69,344.90 620.77,343.90 620.85,342.90 620.93,341.90 621.01,340.90 621.08,339.90 621.15,338.90 621.22,337.90 621.29,336.90 621.35,335.90 621.41,334.90 621.47,333.90 621.52,332.90 621.57,331.90 621.62,330.90 621.66,329.90 621.70,328.90 621.74,327.90 621.77,326.90 621.80,325.90 621.83,324.90 621.85,323.90 621.87,322.90 621.88,321.90 621.89,320.90 621.90,319.90 621.90,318.90 621.90,317.90 621.90,316.90 621.89,315.90 621.89,314.90 621.89,313.90 621.88,312.90 621.87,311.90 621.86,310.90 621.85,309.90 621.84,308.90 621.82,307.90 621.81,306.90 621.79,305.90 621.77,304.90 621.75,303.90 621.73,302.90 621.71,301.90 621.68,300.90 621.66,299.90 621.63,298.90 621.60,297.90 621.56,296.90 621.53,295.90 621.49,294.90 621.45,293.90 621.41,292.90 621.37,291.90 621.33,290.90 621.28,289.90 621.23,288.90 621.18,287.90 621.12,286.90 621.07,285.90 621.01,284.90 620.94,283.90 620.88,282.90 620.81,281.90 620.75,280.90 620.67,279.90 620.60,278.90 620.52,277.90 620.44,276.90 620.36,275.90 620.27,274.90 620.19,273.90 620.09,272.90 620.00,271.90 619.90,270.90 619.80,269.90 619.70,268.90" fill="#fa8072" />
<polygon points="624.20,280.70 624.14,281.70 624.09,282.70 624.04,283.70 623.98,284.70 623.93,285.70 623.88,286.70 623.84,287.70 623.79,288.70 623.74,289.70 623.70,290.70 623.65,291.70 623.61,292.70 623.56,293.70 623.52,294.70 623.48,295.70 623.44,296.70 623.41,297.70 623.37,298.70 623.33,299.70 623.30,300.70 623.27,301.70 623.24,302.70 623.20,303.70 623.17,304.70 623.15,305.70 623.12,306.70 623.09,307.70 623.07,308.70 623.04,309.70 623.02,310.70 623.00,311.70 622.98,312.70 622.96,313.70 622.94,314.70 622.92,315.70 622.90,316.70 622.89,317.70 622.88,318.70 622.86,319.70 622.85,320.70 622.84,321.70 622.83,322.70 622.82,323.70 622.82,324.70 622.81,325.70 622.81,326.70 622.80,327.70 622.80,328.70 622.80,329.70 622.80,330.70 622.80,331.70 622.80,332.70 622.81,333.70 622.81,334.70 622.82,335.70 622.82,336.70 622.83,337.70 622.84,338.70 622.85,339.70 622.86,340.70 622.87,341.70 622.89,342.70 622.90,343.70 622.91,344.70 622.93,345.70 622.95,346.70 622.97,347.70 622.99,348.70 623.01,349.70 623.03,350.70 623.05,351.70 623.07,352.70 623.10,353.70 623.12,354.70 623.15,355.70 623.18,356.70 623.21,357.70 623.24,358.70 623.27,359.70 623.30,360.70 623.34,361.70 623.37,362.70 623.41,363.70 623.45,364.70 623.48,365.70 623.52,366.70 623.56,367.70 623.61,368.70 623.65,369.70 623.69,370.70 623.74,371.70 623.78,372.70 623.83,373.70 623.88,374.70 623.93,375.70 623.98,376.70 624.00,377.10 629.60,377.10 629.62,376.70 629.67,375.70 629.72,374.70 629.77,373.70 629.82,372.70 629.86,371.70 629.91,370.70 629.95,369.70 629.99,368.70 630.04,367.70 630.08,366.70 630.12,365.70 630.15,364.70 630.19,363.70 630.23,362.70 630.26,361.70 630.30,360.70 630.33,359.70 630.36,358.70 630.39,357.70 630.42,356.70 630.45,355.70 630.48,354.70 630.50,353.70 630.53,352.70 630.55,351.70 630.57,350.70 630.59,349.70 630.61,348.70 630.63,347.70 630.65,346.70 630.67,345.70 630.69,344.70 630.70,343.70 630.71,342.70 630.73,341.70 630.74,340.70 630.75,339.70 630.76,338.70 630.77,337.70 630.78,336.70 630.78,335.70 630.79,334.70 630.79,333.70 630.80,332.70 630.80,331.70 630.80,330.70 630.80,329.70 630.80,328.70 630.80,327.70 630.79,326.70 630.79,325.70 630.78,324.70 630.78,323.70 630.77,322.70 630.76,321.70 630.75,320.70 630.74,319.70 630.72,318.70 630.71,317.70 630.70,316.70 630.68,315.70 630.66,314.70 630.64,313.70 630.62,312.70 630.60,311.70 630.58,310.70 630.56,309.70 630.53,308.70 630.51,307.70 630.48,306.70 630.45,305.70 630.43,304.70 630.40,303.70 630.36,302.70 630.33,301.70 630.30,300.70 630.27,299.70 630.23,298.70 630.19,297.70 630.16,296.70 630.12,295.70 630.08,294.70 630.04,293.70 629.99,292.70 629.95,291.70 629.90,290.70 629.86,289.70 629.81,288.70 629.76,287.70 629.72,286.70 629.67,285.70 629.62,284.70 629.56,283.70 629.51,282.70 629.46,281.70 629.40,280.70" fill="#808080" />
<polygon points="654.30,274.40 654.16,275.40 654.02,276.40 653.88,277.40 653.74,278.40 653.61,279.40 653.47,280.40 653.33,281.40 653.20,282.40 653.07,283.40 652.94,284.40 652.82,285.40 652.70,286.40 652.59,287.40 652.48,288.40 652.38,289.40 652.28,290.40 652.19,291.40 652.11,292.40 652.04,293.40 651.97,294.40 651.92,295.40 651.87,296.40 651.84,297.40 651.82,298.40 651.80,299.40 651.80,300.40 651.80,301.40 651.80,302.40 651.80,303.40 651.80,304.40 651.80,305.40 651.80,306.40 651.80,307.40 651.81,308.40 651.81,309.40 651.81,310.40 651.81,311.40 651.82,312.40 651.82,313.40 651.83,314.40 651.84,315.40 651.84,316.40 651.85,317.40 651.86,318.40 651.87,319.40 651.88,320.40 651.89,321.40 651.91,322.40 651.92,323.40 651.94,324.40 651.96,325.40 651.98,326.40 652.00,327.40 652.02,328.40 652.04,329.40 652.07,330.40 652.10,331.40 652.13,332.40 652.16,333.40 652.19,334.40 652.23,335.40 652.26,336.40 652.30,337.40 652.34,338.40 652.39,339.40 652.43,340.40 652.48,341.40 652.53,342.40 652.59,343.40 652.64,344.40 652.70,345.40 652.76,346.40 652.82,347.40 652.89,348.40 652.96,349.40 653.03,350.40 653.11,351.40 653.18,352.40 653.26,353.40 653.35,354.40 653.44,355.40 653.53,356.40 653.60,357.20 659.20,357.20 659.27,356.40 659.36,355.40 659.45,354.40 659.54,353.40 659.62,352.40 659.69,351.40 659.77,350.40 659.84,349.40 659.91,348.40 659.98,347.40 660.04,346.40 660.10,345.40 660.16,344.40 660.21,343.40 660.27,342.40 660.32,341.40 660.37,340.40 660.41,339.40 660.46,338.40 660.50,337.40 660.54,336.40 660.57,335.40 660.61,334.40 660.64,333.40 660.67,332.40 660.70,331.40 660.73,330.40 660.76,329.40 660.78,328.40 660.80,327.40 660.82,326.40 660.84,325.40 660.86,324.40 660.88,323.40 660.89,322.40 660.91,321.40 660.92,320.40 660.93,319.40 660.94,318.40 660.95,317.40 660.96,316.40 660.96,315.40 660.97,314.40 660.98,313.40 660.98,312.40 660.99,311.40 660.99,310.40 660.99,309.40 660.99,308.40 661.00,307.40 661.00,306.40 661.00,305.40 661.00,304.40 661.00,303.40 661.00,302.40 661.00,301.40 661.00,300.40 661.00,299.40 660.98,298.40 660.96,297.40 660.93,296.40 660.88,295.40 660.83,294.40 660.76,293.40 660.69,292.40 660.61,291.40 660.52,290.40 660.42,289.40 660.32,288.40 660.21,287.40 660.10,286.40 659.98,285.40 659.86,284.40 659.73,283.40 659.60,282.40 659.47,281.40 659.33,280.40 659.19,279.40 659.06,278.40 658.92,277.40 658.78,276.40 658.64,275.40 658.50,274.40" fill="#fa8072" />
<polygon points="662.30,295.90 662.28,296.90 662.27,297.90 662.25,298.90 662.24,299.90 662.22,300.90 662.21,301.90 662.20,302.90 662.19,303.90 662.18,304.90 662.17,305.90 662.16,306.90 662.15,307.90 662.15,308.90 662.14,309.90 662.14,310.90 662.13,311.90 662.13,312.90 662.12,313.90 662.12,314.90 662.11,315.90 662.11,316.90 662.11,317.90 662.11,318.90 662.11,319.90 662.10,320.90 662.10,321.90 662.10,322.90 662.10,323.90 662.10,324.90 662.10,325.90 662.10,326.90 662.10,327.90 662.10,328.90 662.10,329.90 662.10,330.90 662.10,331.90 662.11,332.90 662.11,333.90 662.12,334.90 662.12,335.90 662.13,336.90 662.14,337.90 662.15,338.90 662.16,339.90 662.18,340.90 662.19,341.90 662.21,342.90 662.22,343.90 662.24,344.90 662.26,345.90 662.28,346.90 662.30,347.90 662.32,348.90 662.35,349.90 662.37,350.90 662.39,351.90 662.42,352.90 662.45,353.90 662.47,354.90 662.50,355.90 662.53,356.90 662.56,357.90 662.59,358.90 662.62,359.90 662.66,360.90 662.69,361.90 662.72,362.90 662.76,363.90 662.79,364.90 662.83,365.90 662.87,366.90 662.90,367.90 662.94,368.90 662.98,369.90 663.02,370.90 663.06,371.90 663.10,372.90 663.14,373.90 663.18,374.90 663.20,375.40 668.20,375.40 668.22,374.90 668.26,373.90 668.30,372.90 668.34,371.90 668.38,370.90 668.42,369.90 668.46,368.90 668.50,367.90 668.53,366.90 668.57,365.90 668.61,364.90 668.64,363.90 668.68,362.90 668.71,361.90 668.74,360.90 668.78,359.90 668.81,358.90 668.84,357.90 668.87,356.90 668.90,355.90 668.93,354.90 668.95,353.90 668.98,352.90 669.01,351.90 669.03,350.90 669.05,349.90 669.08,348.90 669.10,347.90 669.12,346.90 669.14,345.90 669.16,344.90 669.18,343.90 669.19,342.90 669.21,341.90 669.22,340.90 669.24,339.90 669.25,338.90 669.26,337.90 669.27,336.90 669.28,335.90 669.28,334.90 669.29,333.90 669.29,332.90 669.30,331.90 669.30,330.90 669.30,329.90 669.30,328.90 669.30,327.90 669.30,326.90 669.30,325.90 669.30,324.90 669.30,323.90 669.30,322.90 669.30,321.90 669.30,320.90 669.29,319.90 669.29,318.90 669.29,317.90 669.29,316.90 669.29,315.90 669.28,314.90 669.28,313.90 669.27,312.90 669.27,311.90 669.26,310.90 669.26,309.90 669.25,308.90 669.25,307.90 669.24,306.90 669.23,305.90 669.22,304.90 669.21,303.90 669.20,302.90 669.19,301.90 669.18,300.90 669.16,299.90 669.15,298.90 669.13,297.90 669.12,296.90 669.10,295.90" fill="#808080" />
<line x1="498.40000000000003" y1="295.8" x2="503.2" y2="295.8" stroke="#000" stroke-width="2.4" />
<line x1="507.6" y1="313.5" x2="512.4" y2="313.5" stroke="#000" stroke-width="2.4" />
<line x1="537.1" y1="299.7" x2="541.9" y2="299.7" stroke="#000" stroke-width="2.4" />
<line x1="546.8000000000001" y1="311" x2="551.6" y2="311" stroke="#000" stroke-width="2.4" />
<line x1="575.6" y1="316.2" x2="580.4" y2="316.2" stroke="#000" stroke-width="2.4" />
<line x1="585.4" y1="325" x2="590.1999999999999" y2="325" stroke="#000" stroke-width="2.4" />
<line x1="614.8000000000001" y1="314.6" x2="619.6" y2="314.6" stroke="#000" stroke-width="2.4" />
<line x1="624.4" y1="332.3" x2="629.1999999999999" y2="332.3" stroke="#000" stroke-width="2.4" />
<line x1="654.0" y1="317.5" x2="658.8" y2="317.5" stroke="#000" stroke-width="2.4" />
<line x1="663.3000000000001" y1="332.1" x2="668.1" y2="332.1" stroke="#000" stroke-width="2.4" />
<line x1="487" y1="262.4" x2="676" y2="262.4" stroke="#c3c3c3" stroke-width="0.9" stroke-dasharray="2.3 1.2" stroke-opacity="0.3"/>
<line x1="487" y1="283.3" x2="676" y2="283.3" stroke="#c3c3c3" stroke-width="0.9" stroke-dasharray="2.3 1.2" stroke-opacity="0.3"/>
<line x1="487" y1="304.3" x2="676" y2="304.3" stroke="#c3c3c3" stroke-width="0.9" stroke-dasharray="2.3 1.2" stroke-opacity="0.3"/>
<line x1="487" y1="325.6" x2="676" y2="325.6" stroke="#c3c3c3" stroke-width="0.9" stroke-dasharray="2.3 1.2" stroke-opacity="0.3"/>
<line x1="487" y1="347.2" x2="676" y2="347.2" stroke="#c3c3c3" stroke-width="0.9" stroke-dasharray="2.3 1.2" stroke-opacity="0.3"/>
<line x1="487" y1="367.8" x2="676" y2="367.8" stroke="#c3c3c3" stroke-width="0.9" stroke-dasharray="2.3 1.2" stroke-opacity="0.3"/>
<line x1="486.9" y1="244.3" x2="486.9" y2="381.5" stroke="#4d4d4d" stroke-width="1.4" />
<rect x="588.5" y="234.2" width="68.9" height="28" fill="#fff" stroke="#444" stroke-width="1.2"/>
<rect x="592.7" y="237.2" width="19.2" height="6.9" fill="#808080" />
<rect x="592.7" y="252.2" width="19.2" height="7.3" fill="#fa8072" />
<text x="617.5" y="243" font-size="9.3" text-anchor="start" font-weight="normal" fill="#1a1a1a" stroke="#1a1a1a" stroke-width="0.22" >Full</text>
<text x="617.5" y="255.3" font-size="9.3" text-anchor="start" font-weight="normal" fill="#1a1a1a" stroke="#1a1a1a" stroke-width="0.22" >Limited</text>
<text x="0" y="0" font-size="10.8" text-anchor="middle" font-weight="normal" fill="#1a1a1a" stroke="#1a1a1a" stroke-width="0.22" transform="translate(450.7,310.4) rotate(-90)">VV differentiation</text>
<text x="506.5" y="389.8" font-size="10" text-anchor="middle" font-weight="normal" fill="#1a1a1a" stroke="#1a1a1a" stroke-width="0.22" >1</text>
<text x="544.6" y="389.8" font-size="10" text-anchor="middle" font-weight="normal" fill="#1a1a1a" stroke="#1a1a1a" stroke-width="0.22" >2</text>
<text x="582.5" y="389.8" font-size="10" text-anchor="middle" font-weight="normal" fill="#1a1a1a" stroke="#1a1a1a" stroke-width="0.22" >3</text>
<text x="619" y="389.8" font-size="10" text-anchor="middle" font-weight="normal" fill="#1a1a1a" stroke="#1a1a1a" stroke-width="0.22" >4</text>
<text x="660.5" y="389.8" font-size="10" text-anchor="middle" font-weight="normal" fill="#1a1a1a" stroke="#1a1a1a" stroke-width="0.22" >5</text>
<text x="577.3" y="405.2" font-size="10.6" text-anchor="middle" font-weight="normal" fill="#1a1a1a" stroke="#1a1a1a" stroke-width="0.22" >RT bin</text>
</svg>
</body></html>
